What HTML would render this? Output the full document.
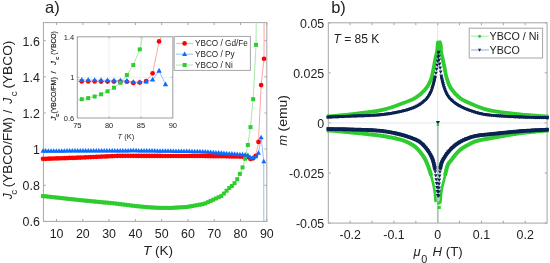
<!DOCTYPE html><html><head><meta charset="utf-8"><style>html,body{margin:0;padding:0;background:#fff;}svg{display:block;filter:blur(0.25px);font-family:"Liberation Sans",sans-serif;}</style></head><body><svg width="550" height="263" viewBox="0 0 550 263">
<rect width="550" height="263" fill="#fff"/>
<defs>
<clipPath id="ca"><rect x="43.4" y="22.6" width="223.4" height="198.8"/></clipPath>
<clipPath id="ci"><rect x="77.3" y="36.8" width="95.50000000000001" height="81.2"/></clipPath>
<clipPath id="cb"><rect x="326.7" y="22.8" width="222.0" height="200.29999999999998"/></clipPath>
</defs>
<rect x="43.4" y="22.6" width="223.40" height="198.80" fill="none" stroke="#a6a6a6" stroke-width="1"/>
<path d="M56.54 221.4V219.00M56.54 22.6V25.00" stroke="#a6a6a6" stroke-width="1"/>
<path d="M82.82 221.4V219.00M82.82 22.6V25.00" stroke="#a6a6a6" stroke-width="1"/>
<path d="M109.11 221.4V219.00M109.11 22.6V25.00" stroke="#a6a6a6" stroke-width="1"/>
<path d="M135.39 221.4V219.00M135.39 22.6V25.00" stroke="#a6a6a6" stroke-width="1"/>
<path d="M161.67 221.4V219.00M161.67 22.6V25.00" stroke="#a6a6a6" stroke-width="1"/>
<path d="M187.95 221.4V219.00M187.95 22.6V25.00" stroke="#a6a6a6" stroke-width="1"/>
<path d="M214.24 221.4V219.00M214.24 22.6V25.00" stroke="#a6a6a6" stroke-width="1"/>
<path d="M240.52 221.4V219.00M240.52 22.6V25.00" stroke="#a6a6a6" stroke-width="1"/>
<path d="M266.80 221.4V219.00M266.80 22.6V25.00" stroke="#a6a6a6" stroke-width="1"/>
<path d="M43.4 221.40H45.80M266.8 221.40H264.40" stroke="#a6a6a6" stroke-width="1"/>
<path d="M43.4 185.25H45.80M266.8 185.25H264.40" stroke="#a6a6a6" stroke-width="1"/>
<path d="M43.4 149.11H45.80M266.8 149.11H264.40" stroke="#a6a6a6" stroke-width="1"/>
<path d="M43.4 112.96H45.80M266.8 112.96H264.40" stroke="#a6a6a6" stroke-width="1"/>
<path d="M43.4 76.82H45.80M266.8 76.82H264.40" stroke="#a6a6a6" stroke-width="1"/>
<path d="M43.4 40.67H45.80M266.8 40.67H264.40" stroke="#a6a6a6" stroke-width="1"/>
<text x="56.54" y="237.70" font-size="12.4" fill="#222222" text-anchor="middle">10</text>
<text x="82.82" y="237.70" font-size="12.4" fill="#222222" text-anchor="middle">20</text>
<text x="109.11" y="237.70" font-size="12.4" fill="#222222" text-anchor="middle">30</text>
<text x="135.39" y="237.70" font-size="12.4" fill="#222222" text-anchor="middle">40</text>
<text x="161.67" y="237.70" font-size="12.4" fill="#222222" text-anchor="middle">50</text>
<text x="187.95" y="237.70" font-size="12.4" fill="#222222" text-anchor="middle">60</text>
<text x="214.24" y="237.70" font-size="12.4" fill="#222222" text-anchor="middle">70</text>
<text x="240.52" y="237.70" font-size="12.4" fill="#222222" text-anchor="middle">80</text>
<text x="266.80" y="237.70" font-size="12.4" fill="#222222" text-anchor="middle">90</text>
<text x="39.8" y="226.30" font-size="12.4" fill="#222222" text-anchor="end">0.6</text>
<text x="39.8" y="190.15" font-size="12.4" fill="#222222" text-anchor="end">0.8</text>
<text x="39.8" y="154.01" font-size="12.4" fill="#222222" text-anchor="end">1</text>
<text x="39.8" y="117.86" font-size="12.4" fill="#222222" text-anchor="end">1.2</text>
<text x="39.8" y="81.72" font-size="12.4" fill="#222222" text-anchor="end">1.4</text>
<text x="39.8" y="45.57" font-size="12.4" fill="#222222" text-anchor="end">1.6</text>
<text x="158.0" y="254.8" font-size="13.6" fill="#222222" text-anchor="middle"><tspan font-style="italic">T</tspan> (K)</text>
<g transform="translate(11.9,0) rotate(-90)" fill="#222222">
<text x="-199.2" y="0" font-size="12" font-style="italic">J</text>
<text x="-194.8" y="5.3" font-size="9.8">c</text>
<text x="-187.2" y="0" font-size="12" textLength="70" lengthAdjust="spacingAndGlyphs">(YBCO/FM)</text>
<text x="-113.2" y="0" font-size="12.5">/</text>
<text x="-103.8" y="0" font-size="12" font-style="italic">J</text>
<text x="-96.3" y="5.3" font-size="9.8">c</text>
<text x="-88.6" y="0" font-size="12" textLength="48.0" lengthAdjust="spacingAndGlyphs">(YBCO)</text>
</g>
<text x="45.0" y="12.9" font-size="16.5" fill="#222222">a)</text>
<g clip-path="url(#ca)">
<polyline points="43.03,150.92 45.69,150.91 48.35,150.90 51.01,150.89 53.67,150.88 56.33,150.87 58.99,150.86 61.65,150.84 64.31,150.83 66.97,150.82 69.63,150.81 72.29,150.80 74.95,150.79 77.61,150.78 80.27,150.77 82.93,150.76 85.59,150.75 88.25,150.74 90.91,150.73 93.57,150.72 96.23,150.71 98.89,150.70 101.55,150.69 104.21,150.68 106.87,150.67 109.53,150.66 112.19,150.65 114.85,150.64 117.51,150.63 120.17,150.61 122.83,150.60 125.49,150.59 128.14,150.58 130.80,150.57 133.46,150.56 136.12,150.57 138.78,150.60 141.44,150.64 144.10,150.67 146.76,150.71 149.42,150.75 152.08,150.78 154.74,150.82 157.40,150.86 160.06,150.89 162.72,150.93 165.38,150.97 168.04,151.00 170.70,151.04 173.36,151.08 176.02,151.11 178.68,151.15 181.34,151.19 184.00,151.22 186.66,151.26 189.32,151.31 191.98,151.37 194.64,151.43 197.30,151.49 199.96,151.55 202.62,151.61 205.28,151.76 207.94,151.97 210.60,152.18 213.26,152.38 215.92,152.59 218.58,152.80 221.24,153.01 223.90,153.21 226.56,153.42 229.22,153.63 231.88,153.81 234.54,153.99 237.20,154.18 239.86,154.36 242.52,154.54 245.17,154.72 247.83,155.12 250.49,157.59 253.15,157.42 255.81,156.46 258.47,152.94 261.13,137.34 263.78,161.40 263.91,329.84" fill="none" stroke="#8ab6ff" stroke-width="0.9" />
<polyline points="43.03,158.87 45.69,158.79 48.35,158.70 51.01,158.61 53.67,158.52 56.33,158.42 58.99,158.33 61.65,158.24 64.31,158.15 66.97,158.06 69.63,157.97 72.29,157.88 74.95,157.78 77.61,157.69 80.27,157.60 82.93,157.48 85.59,157.36 88.25,157.23 90.91,157.11 93.57,156.99 96.23,156.87 98.89,156.75 101.55,156.62 104.21,156.50 106.87,156.38 109.53,156.26 112.19,156.14 114.85,156.01 117.51,155.89 120.17,155.80 122.83,155.81 125.49,155.82 128.14,155.83 130.80,155.84 133.46,155.86 136.12,155.87 138.78,155.88 141.44,155.89 144.10,155.90 146.76,155.91 149.42,155.92 152.08,155.94 154.74,155.95 157.40,155.96 160.06,155.97 162.72,155.98 165.38,155.98 168.04,155.98 170.70,155.98 173.36,155.98 176.02,155.98 178.68,155.98 181.34,155.98 184.00,155.98 186.66,155.98 189.32,155.98 191.98,155.98 194.64,155.98 197.30,155.98 199.96,155.98 202.62,156.00 205.28,156.03 207.94,156.06 210.60,156.10 213.26,156.13 215.92,156.17 218.58,156.20 221.24,156.24 223.90,156.27 226.56,156.30 229.22,156.34 231.88,156.39 234.54,156.44 237.20,156.49 239.86,156.55 242.52,156.60 245.17,156.65 247.83,156.90 250.49,158.99 253.15,158.31 255.81,155.73 258.47,141.89 261.13,85.04 264.04,58.75 264.30,-212.35" fill="none" stroke="#ff9a9a" stroke-width="0.9" />
<polyline points="43.03,196.10 45.69,196.35 48.35,196.64 51.01,196.93 53.67,197.22 56.33,197.51 58.99,197.80 61.65,198.09 64.31,198.39 66.97,198.68 69.63,198.97 72.29,199.26 74.95,199.55 77.61,199.84 80.27,200.11 82.93,200.37 85.59,200.63 88.25,200.89 90.91,201.15 93.57,201.41 96.23,201.67 98.89,201.94 101.55,202.18 104.21,202.42 106.87,202.65 109.53,202.88 112.19,203.12 114.85,203.44 117.51,203.78 120.17,204.12 122.83,204.46 125.49,204.80 128.14,205.13 130.80,205.47 133.46,205.80 136.12,206.11 138.78,206.36 141.44,206.62 144.10,206.87 146.76,207.13 149.42,207.30 152.08,207.47 154.74,207.64 157.40,207.81 160.06,207.86 162.72,207.88 165.38,207.90 168.04,207.92 170.70,207.93 173.36,207.78 176.02,207.62 178.68,207.46 181.34,207.30 184.00,207.13 186.66,206.97 189.32,206.55 191.98,206.08 194.64,205.60 197.30,205.12 199.96,204.64 202.62,204.16 205.28,203.40 207.94,202.18 210.60,200.96 213.26,199.74 215.92,198.52 218.58,197.30 221.24,196.08 223.90,193.52 226.56,190.74 229.22,187.97 231.88,185.97 234.54,183.16 237.20,179.18 239.86,173.88 242.52,167.44 245.17,158.75 247.83,144.99 250.49,127.13 253.15,99.19 256.02,44.83 258.65,-248.49" fill="none" stroke="#9ee69e" stroke-width="0.9" />
</g>
<circle cx="43.03" cy="158.87" r="2.35" fill="#ff0000"/>
<circle cx="45.69" cy="158.79" r="2.35" fill="#ff0000"/>
<circle cx="48.35" cy="158.70" r="2.35" fill="#ff0000"/>
<circle cx="51.01" cy="158.61" r="2.35" fill="#ff0000"/>
<circle cx="53.67" cy="158.52" r="2.35" fill="#ff0000"/>
<circle cx="56.33" cy="158.42" r="2.35" fill="#ff0000"/>
<circle cx="58.99" cy="158.33" r="2.35" fill="#ff0000"/>
<circle cx="61.65" cy="158.24" r="2.35" fill="#ff0000"/>
<circle cx="64.31" cy="158.15" r="2.35" fill="#ff0000"/>
<circle cx="66.97" cy="158.06" r="2.35" fill="#ff0000"/>
<circle cx="69.63" cy="157.97" r="2.35" fill="#ff0000"/>
<circle cx="72.29" cy="157.88" r="2.35" fill="#ff0000"/>
<circle cx="74.95" cy="157.78" r="2.35" fill="#ff0000"/>
<circle cx="77.61" cy="157.69" r="2.35" fill="#ff0000"/>
<circle cx="80.27" cy="157.60" r="2.35" fill="#ff0000"/>
<circle cx="82.93" cy="157.48" r="2.35" fill="#ff0000"/>
<circle cx="85.59" cy="157.36" r="2.35" fill="#ff0000"/>
<circle cx="88.25" cy="157.23" r="2.35" fill="#ff0000"/>
<circle cx="90.91" cy="157.11" r="2.35" fill="#ff0000"/>
<circle cx="93.57" cy="156.99" r="2.35" fill="#ff0000"/>
<circle cx="96.23" cy="156.87" r="2.35" fill="#ff0000"/>
<circle cx="98.89" cy="156.75" r="2.35" fill="#ff0000"/>
<circle cx="101.55" cy="156.62" r="2.35" fill="#ff0000"/>
<circle cx="104.21" cy="156.50" r="2.35" fill="#ff0000"/>
<circle cx="106.87" cy="156.38" r="2.35" fill="#ff0000"/>
<circle cx="109.53" cy="156.26" r="2.35" fill="#ff0000"/>
<circle cx="112.19" cy="156.14" r="2.35" fill="#ff0000"/>
<circle cx="114.85" cy="156.01" r="2.35" fill="#ff0000"/>
<circle cx="117.51" cy="155.89" r="2.35" fill="#ff0000"/>
<circle cx="120.17" cy="155.80" r="2.35" fill="#ff0000"/>
<circle cx="122.83" cy="155.81" r="2.35" fill="#ff0000"/>
<circle cx="125.49" cy="155.82" r="2.35" fill="#ff0000"/>
<circle cx="128.14" cy="155.83" r="2.35" fill="#ff0000"/>
<circle cx="130.80" cy="155.84" r="2.35" fill="#ff0000"/>
<circle cx="133.46" cy="155.86" r="2.35" fill="#ff0000"/>
<circle cx="136.12" cy="155.87" r="2.35" fill="#ff0000"/>
<circle cx="138.78" cy="155.88" r="2.35" fill="#ff0000"/>
<circle cx="141.44" cy="155.89" r="2.35" fill="#ff0000"/>
<circle cx="144.10" cy="155.90" r="2.35" fill="#ff0000"/>
<circle cx="146.76" cy="155.91" r="2.35" fill="#ff0000"/>
<circle cx="149.42" cy="155.92" r="2.35" fill="#ff0000"/>
<circle cx="152.08" cy="155.94" r="2.35" fill="#ff0000"/>
<circle cx="154.74" cy="155.95" r="2.35" fill="#ff0000"/>
<circle cx="157.40" cy="155.96" r="2.35" fill="#ff0000"/>
<circle cx="160.06" cy="155.97" r="2.35" fill="#ff0000"/>
<circle cx="162.72" cy="155.98" r="2.35" fill="#ff0000"/>
<circle cx="165.38" cy="155.98" r="2.35" fill="#ff0000"/>
<circle cx="168.04" cy="155.98" r="2.35" fill="#ff0000"/>
<circle cx="170.70" cy="155.98" r="2.35" fill="#ff0000"/>
<circle cx="173.36" cy="155.98" r="2.35" fill="#ff0000"/>
<circle cx="176.02" cy="155.98" r="2.35" fill="#ff0000"/>
<circle cx="178.68" cy="155.98" r="2.35" fill="#ff0000"/>
<circle cx="181.34" cy="155.98" r="2.35" fill="#ff0000"/>
<circle cx="184.00" cy="155.98" r="2.35" fill="#ff0000"/>
<circle cx="186.66" cy="155.98" r="2.35" fill="#ff0000"/>
<circle cx="189.32" cy="155.98" r="2.35" fill="#ff0000"/>
<circle cx="191.98" cy="155.98" r="2.35" fill="#ff0000"/>
<circle cx="194.64" cy="155.98" r="2.35" fill="#ff0000"/>
<circle cx="197.30" cy="155.98" r="2.35" fill="#ff0000"/>
<circle cx="199.96" cy="155.98" r="2.35" fill="#ff0000"/>
<circle cx="202.62" cy="156.00" r="2.35" fill="#ff0000"/>
<circle cx="205.28" cy="156.03" r="2.35" fill="#ff0000"/>
<circle cx="207.94" cy="156.06" r="2.35" fill="#ff0000"/>
<circle cx="210.60" cy="156.10" r="2.35" fill="#ff0000"/>
<circle cx="213.26" cy="156.13" r="2.35" fill="#ff0000"/>
<circle cx="215.92" cy="156.17" r="2.35" fill="#ff0000"/>
<circle cx="218.58" cy="156.20" r="2.35" fill="#ff0000"/>
<circle cx="221.24" cy="156.24" r="2.35" fill="#ff0000"/>
<circle cx="223.90" cy="156.27" r="2.35" fill="#ff0000"/>
<circle cx="226.56" cy="156.30" r="2.35" fill="#ff0000"/>
<circle cx="229.22" cy="156.34" r="2.35" fill="#ff0000"/>
<circle cx="231.88" cy="156.39" r="2.35" fill="#ff0000"/>
<circle cx="234.54" cy="156.44" r="2.35" fill="#ff0000"/>
<circle cx="237.20" cy="156.49" r="2.35" fill="#ff0000"/>
<circle cx="239.86" cy="156.55" r="2.35" fill="#ff0000"/>
<circle cx="242.52" cy="156.60" r="2.35" fill="#ff0000"/>
<circle cx="245.17" cy="156.65" r="2.35" fill="#ff0000"/>
<circle cx="247.83" cy="156.90" r="2.35" fill="#ff0000"/>
<circle cx="250.49" cy="158.99" r="2.35" fill="#ff0000"/>
<circle cx="253.15" cy="158.31" r="2.35" fill="#ff0000"/>
<circle cx="255.81" cy="155.73" r="2.35" fill="#ff0000"/>
<circle cx="258.47" cy="141.89" r="2.35" fill="#ff0000"/>
<circle cx="261.13" cy="85.04" r="2.35" fill="#ff0000"/>
<circle cx="264.04" cy="58.75" r="2.35" fill="#ff0000"/>
<path d="M43.03 148.22L45.53 152.72L40.53 152.72Z" fill="#0a6cff"/>
<path d="M45.69 148.21L48.19 152.71L43.19 152.71Z" fill="#0a6cff"/>
<path d="M48.35 148.20L50.85 152.70L45.85 152.70Z" fill="#0a6cff"/>
<path d="M51.01 148.19L53.51 152.69L48.51 152.69Z" fill="#0a6cff"/>
<path d="M53.67 148.18L56.17 152.68L51.17 152.68Z" fill="#0a6cff"/>
<path d="M56.33 148.17L58.83 152.67L53.83 152.67Z" fill="#0a6cff"/>
<path d="M58.99 148.16L61.49 152.66L56.49 152.66Z" fill="#0a6cff"/>
<path d="M61.65 148.14L64.15 152.64L59.15 152.64Z" fill="#0a6cff"/>
<path d="M64.31 148.13L66.81 152.63L61.81 152.63Z" fill="#0a6cff"/>
<path d="M66.97 148.12L69.47 152.62L64.47 152.62Z" fill="#0a6cff"/>
<path d="M69.63 148.11L72.13 152.61L67.13 152.61Z" fill="#0a6cff"/>
<path d="M72.29 148.10L74.79 152.60L69.79 152.60Z" fill="#0a6cff"/>
<path d="M74.95 148.09L77.45 152.59L72.45 152.59Z" fill="#0a6cff"/>
<path d="M77.61 148.08L80.11 152.58L75.11 152.58Z" fill="#0a6cff"/>
<path d="M80.27 148.07L82.77 152.57L77.77 152.57Z" fill="#0a6cff"/>
<path d="M82.93 148.06L85.43 152.56L80.43 152.56Z" fill="#0a6cff"/>
<path d="M85.59 148.05L88.09 152.55L83.09 152.55Z" fill="#0a6cff"/>
<path d="M88.25 148.04L90.75 152.54L85.75 152.54Z" fill="#0a6cff"/>
<path d="M90.91 148.03L93.41 152.53L88.41 152.53Z" fill="#0a6cff"/>
<path d="M93.57 148.02L96.07 152.52L91.07 152.52Z" fill="#0a6cff"/>
<path d="M96.23 148.01L98.73 152.51L93.73 152.51Z" fill="#0a6cff"/>
<path d="M98.89 148.00L101.39 152.50L96.39 152.50Z" fill="#0a6cff"/>
<path d="M101.55 147.99L104.05 152.49L99.05 152.49Z" fill="#0a6cff"/>
<path d="M104.21 147.98L106.71 152.48L101.71 152.48Z" fill="#0a6cff"/>
<path d="M106.87 147.97L109.37 152.47L104.37 152.47Z" fill="#0a6cff"/>
<path d="M109.53 147.96L112.03 152.46L107.03 152.46Z" fill="#0a6cff"/>
<path d="M112.19 147.95L114.69 152.45L109.69 152.45Z" fill="#0a6cff"/>
<path d="M114.85 147.94L117.35 152.44L112.35 152.44Z" fill="#0a6cff"/>
<path d="M117.51 147.93L120.01 152.43L115.01 152.43Z" fill="#0a6cff"/>
<path d="M120.17 147.91L122.67 152.41L117.67 152.41Z" fill="#0a6cff"/>
<path d="M122.83 147.90L125.33 152.40L120.33 152.40Z" fill="#0a6cff"/>
<path d="M125.49 147.89L127.99 152.39L122.99 152.39Z" fill="#0a6cff"/>
<path d="M128.14 147.88L130.64 152.38L125.64 152.38Z" fill="#0a6cff"/>
<path d="M130.80 147.87L133.30 152.37L128.30 152.37Z" fill="#0a6cff"/>
<path d="M133.46 147.86L135.96 152.36L130.96 152.36Z" fill="#0a6cff"/>
<path d="M136.12 147.87L138.62 152.37L133.62 152.37Z" fill="#0a6cff"/>
<path d="M138.78 147.90L141.28 152.40L136.28 152.40Z" fill="#0a6cff"/>
<path d="M141.44 147.94L143.94 152.44L138.94 152.44Z" fill="#0a6cff"/>
<path d="M144.10 147.97L146.60 152.47L141.60 152.47Z" fill="#0a6cff"/>
<path d="M146.76 148.01L149.26 152.51L144.26 152.51Z" fill="#0a6cff"/>
<path d="M149.42 148.05L151.92 152.55L146.92 152.55Z" fill="#0a6cff"/>
<path d="M152.08 148.08L154.58 152.58L149.58 152.58Z" fill="#0a6cff"/>
<path d="M154.74 148.12L157.24 152.62L152.24 152.62Z" fill="#0a6cff"/>
<path d="M157.40 148.16L159.90 152.66L154.90 152.66Z" fill="#0a6cff"/>
<path d="M160.06 148.19L162.56 152.69L157.56 152.69Z" fill="#0a6cff"/>
<path d="M162.72 148.23L165.22 152.73L160.22 152.73Z" fill="#0a6cff"/>
<path d="M165.38 148.27L167.88 152.77L162.88 152.77Z" fill="#0a6cff"/>
<path d="M168.04 148.30L170.54 152.80L165.54 152.80Z" fill="#0a6cff"/>
<path d="M170.70 148.34L173.20 152.84L168.20 152.84Z" fill="#0a6cff"/>
<path d="M173.36 148.38L175.86 152.88L170.86 152.88Z" fill="#0a6cff"/>
<path d="M176.02 148.41L178.52 152.91L173.52 152.91Z" fill="#0a6cff"/>
<path d="M178.68 148.45L181.18 152.95L176.18 152.95Z" fill="#0a6cff"/>
<path d="M181.34 148.49L183.84 152.99L178.84 152.99Z" fill="#0a6cff"/>
<path d="M184.00 148.52L186.50 153.02L181.50 153.02Z" fill="#0a6cff"/>
<path d="M186.66 148.56L189.16 153.06L184.16 153.06Z" fill="#0a6cff"/>
<path d="M189.32 148.61L191.82 153.11L186.82 153.11Z" fill="#0a6cff"/>
<path d="M191.98 148.67L194.48 153.17L189.48 153.17Z" fill="#0a6cff"/>
<path d="M194.64 148.73L197.14 153.23L192.14 153.23Z" fill="#0a6cff"/>
<path d="M197.30 148.79L199.80 153.29L194.80 153.29Z" fill="#0a6cff"/>
<path d="M199.96 148.85L202.46 153.35L197.46 153.35Z" fill="#0a6cff"/>
<path d="M202.62 148.91L205.12 153.41L200.12 153.41Z" fill="#0a6cff"/>
<path d="M205.28 149.06L207.78 153.56L202.78 153.56Z" fill="#0a6cff"/>
<path d="M207.94 149.27L210.44 153.77L205.44 153.77Z" fill="#0a6cff"/>
<path d="M210.60 149.48L213.10 153.98L208.10 153.98Z" fill="#0a6cff"/>
<path d="M213.26 149.68L215.76 154.18L210.76 154.18Z" fill="#0a6cff"/>
<path d="M215.92 149.89L218.42 154.39L213.42 154.39Z" fill="#0a6cff"/>
<path d="M218.58 150.10L221.08 154.60L216.08 154.60Z" fill="#0a6cff"/>
<path d="M221.24 150.31L223.74 154.81L218.74 154.81Z" fill="#0a6cff"/>
<path d="M223.90 150.51L226.40 155.01L221.40 155.01Z" fill="#0a6cff"/>
<path d="M226.56 150.72L229.06 155.22L224.06 155.22Z" fill="#0a6cff"/>
<path d="M229.22 150.93L231.72 155.43L226.72 155.43Z" fill="#0a6cff"/>
<path d="M231.88 151.11L234.38 155.61L229.38 155.61Z" fill="#0a6cff"/>
<path d="M234.54 151.29L237.04 155.79L232.04 155.79Z" fill="#0a6cff"/>
<path d="M237.20 151.48L239.70 155.98L234.70 155.98Z" fill="#0a6cff"/>
<path d="M239.86 151.66L242.36 156.16L237.36 156.16Z" fill="#0a6cff"/>
<path d="M242.52 151.84L245.02 156.34L240.02 156.34Z" fill="#0a6cff"/>
<path d="M245.17 152.02L247.67 156.52L242.67 156.52Z" fill="#0a6cff"/>
<path d="M247.83 152.42L250.33 156.92L245.33 156.92Z" fill="#0a6cff"/>
<path d="M250.49 154.89L252.99 159.39L247.99 159.39Z" fill="#0a6cff"/>
<path d="M253.15 154.72L255.65 159.22L250.65 159.22Z" fill="#0a6cff"/>
<path d="M255.81 153.76L258.31 158.26L253.31 158.26Z" fill="#0a6cff"/>
<path d="M258.47 150.24L260.97 154.74L255.97 154.74Z" fill="#0a6cff"/>
<path d="M261.13 134.64L263.63 139.14L258.63 139.14Z" fill="#0a6cff"/>
<path d="M263.78 158.70L266.28 163.20L261.28 163.20Z" fill="#0a6cff"/>
<rect x="41.03" y="194.10" width="4.0" height="4.0" fill="#2ecc2e"/>
<rect x="43.69" y="194.35" width="4.0" height="4.0" fill="#2ecc2e"/>
<rect x="46.35" y="194.64" width="4.0" height="4.0" fill="#2ecc2e"/>
<rect x="49.01" y="194.93" width="4.0" height="4.0" fill="#2ecc2e"/>
<rect x="51.67" y="195.22" width="4.0" height="4.0" fill="#2ecc2e"/>
<rect x="54.33" y="195.51" width="4.0" height="4.0" fill="#2ecc2e"/>
<rect x="56.99" y="195.80" width="4.0" height="4.0" fill="#2ecc2e"/>
<rect x="59.65" y="196.09" width="4.0" height="4.0" fill="#2ecc2e"/>
<rect x="62.31" y="196.39" width="4.0" height="4.0" fill="#2ecc2e"/>
<rect x="64.97" y="196.68" width="4.0" height="4.0" fill="#2ecc2e"/>
<rect x="67.63" y="196.97" width="4.0" height="4.0" fill="#2ecc2e"/>
<rect x="70.29" y="197.26" width="4.0" height="4.0" fill="#2ecc2e"/>
<rect x="72.95" y="197.55" width="4.0" height="4.0" fill="#2ecc2e"/>
<rect x="75.61" y="197.84" width="4.0" height="4.0" fill="#2ecc2e"/>
<rect x="78.27" y="198.11" width="4.0" height="4.0" fill="#2ecc2e"/>
<rect x="80.93" y="198.37" width="4.0" height="4.0" fill="#2ecc2e"/>
<rect x="83.59" y="198.63" width="4.0" height="4.0" fill="#2ecc2e"/>
<rect x="86.25" y="198.89" width="4.0" height="4.0" fill="#2ecc2e"/>
<rect x="88.91" y="199.15" width="4.0" height="4.0" fill="#2ecc2e"/>
<rect x="91.57" y="199.41" width="4.0" height="4.0" fill="#2ecc2e"/>
<rect x="94.23" y="199.67" width="4.0" height="4.0" fill="#2ecc2e"/>
<rect x="96.89" y="199.94" width="4.0" height="4.0" fill="#2ecc2e"/>
<rect x="99.55" y="200.18" width="4.0" height="4.0" fill="#2ecc2e"/>
<rect x="102.21" y="200.42" width="4.0" height="4.0" fill="#2ecc2e"/>
<rect x="104.87" y="200.65" width="4.0" height="4.0" fill="#2ecc2e"/>
<rect x="107.53" y="200.88" width="4.0" height="4.0" fill="#2ecc2e"/>
<rect x="110.19" y="201.12" width="4.0" height="4.0" fill="#2ecc2e"/>
<rect x="112.85" y="201.44" width="4.0" height="4.0" fill="#2ecc2e"/>
<rect x="115.51" y="201.78" width="4.0" height="4.0" fill="#2ecc2e"/>
<rect x="118.17" y="202.12" width="4.0" height="4.0" fill="#2ecc2e"/>
<rect x="120.83" y="202.46" width="4.0" height="4.0" fill="#2ecc2e"/>
<rect x="123.49" y="202.80" width="4.0" height="4.0" fill="#2ecc2e"/>
<rect x="126.14" y="203.13" width="4.0" height="4.0" fill="#2ecc2e"/>
<rect x="128.80" y="203.47" width="4.0" height="4.0" fill="#2ecc2e"/>
<rect x="131.46" y="203.80" width="4.0" height="4.0" fill="#2ecc2e"/>
<rect x="134.12" y="204.11" width="4.0" height="4.0" fill="#2ecc2e"/>
<rect x="136.78" y="204.36" width="4.0" height="4.0" fill="#2ecc2e"/>
<rect x="139.44" y="204.62" width="4.0" height="4.0" fill="#2ecc2e"/>
<rect x="142.10" y="204.87" width="4.0" height="4.0" fill="#2ecc2e"/>
<rect x="144.76" y="205.13" width="4.0" height="4.0" fill="#2ecc2e"/>
<rect x="147.42" y="205.30" width="4.0" height="4.0" fill="#2ecc2e"/>
<rect x="150.08" y="205.47" width="4.0" height="4.0" fill="#2ecc2e"/>
<rect x="152.74" y="205.64" width="4.0" height="4.0" fill="#2ecc2e"/>
<rect x="155.40" y="205.81" width="4.0" height="4.0" fill="#2ecc2e"/>
<rect x="158.06" y="205.86" width="4.0" height="4.0" fill="#2ecc2e"/>
<rect x="160.72" y="205.88" width="4.0" height="4.0" fill="#2ecc2e"/>
<rect x="163.38" y="205.90" width="4.0" height="4.0" fill="#2ecc2e"/>
<rect x="166.04" y="205.92" width="4.0" height="4.0" fill="#2ecc2e"/>
<rect x="168.70" y="205.93" width="4.0" height="4.0" fill="#2ecc2e"/>
<rect x="171.36" y="205.78" width="4.0" height="4.0" fill="#2ecc2e"/>
<rect x="174.02" y="205.62" width="4.0" height="4.0" fill="#2ecc2e"/>
<rect x="176.68" y="205.46" width="4.0" height="4.0" fill="#2ecc2e"/>
<rect x="179.34" y="205.30" width="4.0" height="4.0" fill="#2ecc2e"/>
<rect x="182.00" y="205.13" width="4.0" height="4.0" fill="#2ecc2e"/>
<rect x="184.66" y="204.97" width="4.0" height="4.0" fill="#2ecc2e"/>
<rect x="187.32" y="204.55" width="4.0" height="4.0" fill="#2ecc2e"/>
<rect x="189.98" y="204.08" width="4.0" height="4.0" fill="#2ecc2e"/>
<rect x="192.64" y="203.60" width="4.0" height="4.0" fill="#2ecc2e"/>
<rect x="195.30" y="203.12" width="4.0" height="4.0" fill="#2ecc2e"/>
<rect x="197.96" y="202.64" width="4.0" height="4.0" fill="#2ecc2e"/>
<rect x="200.62" y="202.16" width="4.0" height="4.0" fill="#2ecc2e"/>
<rect x="203.28" y="201.40" width="4.0" height="4.0" fill="#2ecc2e"/>
<rect x="205.94" y="200.18" width="4.0" height="4.0" fill="#2ecc2e"/>
<rect x="208.60" y="198.96" width="4.0" height="4.0" fill="#2ecc2e"/>
<rect x="211.26" y="197.74" width="4.0" height="4.0" fill="#2ecc2e"/>
<rect x="213.92" y="196.52" width="4.0" height="4.0" fill="#2ecc2e"/>
<rect x="216.58" y="195.30" width="4.0" height="4.0" fill="#2ecc2e"/>
<rect x="219.24" y="194.08" width="4.0" height="4.0" fill="#2ecc2e"/>
<rect x="221.90" y="191.52" width="4.0" height="4.0" fill="#2ecc2e"/>
<rect x="224.56" y="188.74" width="4.0" height="4.0" fill="#2ecc2e"/>
<rect x="227.22" y="185.97" width="4.0" height="4.0" fill="#2ecc2e"/>
<rect x="229.88" y="183.97" width="4.0" height="4.0" fill="#2ecc2e"/>
<rect x="232.54" y="181.16" width="4.0" height="4.0" fill="#2ecc2e"/>
<rect x="235.20" y="177.18" width="4.0" height="4.0" fill="#2ecc2e"/>
<rect x="237.86" y="171.88" width="4.0" height="4.0" fill="#2ecc2e"/>
<rect x="240.52" y="165.44" width="4.0" height="4.0" fill="#2ecc2e"/>
<rect x="243.17" y="156.75" width="4.0" height="4.0" fill="#2ecc2e"/>
<rect x="245.83" y="142.99" width="4.0" height="4.0" fill="#2ecc2e"/>
<rect x="248.49" y="125.13" width="4.0" height="4.0" fill="#2ecc2e"/>
<rect x="251.15" y="97.19" width="4.0" height="4.0" fill="#2ecc2e"/>
<rect x="254.02" y="42.83" width="4.0" height="4.0" fill="#2ecc2e"/>
<rect x="77.3" y="36.8" width="95.50" height="81.20" fill="#fff" stroke="#9c9c9c" stroke-width="1"/>
<path d="M109.13 118.0V36.8" stroke="#ececec" stroke-width="0.8"/>
<path d="M140.97 118.0V36.8" stroke="#ececec" stroke-width="0.8"/>
<path d="M77.3 77.40H172.8" stroke="#ececec" stroke-width="0.8"/>
<path d="M109.13 118.0V116.40M109.13 36.8V38.40" stroke="#999" stroke-width="0.9"/>
<path d="M140.97 118.0V116.40M140.97 36.8V38.40" stroke="#999" stroke-width="0.9"/>
<path d="M77.3 77.40H78.90M172.8 77.40H171.20" stroke="#999" stroke-width="0.9"/>
<text x="77.30" y="128.2" font-size="7.5" fill="#222222" text-anchor="middle">75</text>
<text x="109.13" y="128.2" font-size="7.5" fill="#222222" text-anchor="middle">80</text>
<text x="140.97" y="128.2" font-size="7.5" fill="#222222" text-anchor="middle">85</text>
<text x="172.80" y="128.2" font-size="7.5" fill="#222222" text-anchor="middle">90</text>
<text x="74.3" y="120.70" font-size="7.5" fill="#222222" text-anchor="end">0.6</text>
<text x="74.3" y="80.10" font-size="7.5" fill="#222222" text-anchor="end">1</text>
<text x="74.3" y="39.50" font-size="7.5" fill="#222222" text-anchor="end">1.4</text>
<text x="125.9" y="138.6" font-size="7.5" fill="#222222" text-anchor="middle"><tspan font-style="italic">T</tspan> (K)</text>
<g transform="translate(55.8,0) rotate(-90)" fill="#222222" stroke="#222222" stroke-width="0.18">
<text x="-120.5" y="0" font-size="7.8" font-style="italic">J</text>
<text x="-116.8" y="3.0" font-size="6.0">c</text>
<text x="-113.6" y="0" font-size="7.9" textLength="36.3" lengthAdjust="spacingAndGlyphs">(YBCO/FM)</text>
<text x="-73.6" y="0" font-size="7.8">/</text>
<text x="-64.9" y="0" font-size="7.8" font-style="italic">J</text>
<text x="-59.8" y="3.0" font-size="6.0">c</text>
<text x="-54.7" y="0" font-size="7.9" textLength="23.4" lengthAdjust="spacingAndGlyphs">(YBCO)</text>
</g>
<g clip-path="url(#ci)">
<polyline points="75.31,79.82 81.76,79.94 88.20,80.04 94.64,80.14 101.09,80.25 107.53,80.35 113.97,80.45 120.42,80.55 126.86,80.78 133.30,82.16 139.74,82.06 146.19,81.53 152.63,79.55 159.07,70.79 165.48,84.30" fill="none" stroke="#8ab6ff" stroke-width="0.9" />
<polyline points="75.31,81.44 81.76,81.46 88.20,81.49 94.64,81.52 101.09,81.55 107.53,81.58 113.97,81.61 120.42,81.64 126.86,81.77 133.30,82.95 139.74,82.57 146.19,81.12 152.63,73.34 159.07,41.42 166.12,26.65 166.75,-125.60" fill="none" stroke="#ff9a9a" stroke-width="0.9" />
<polyline points="75.31,100.78 81.76,99.22 88.20,98.10 94.64,96.52 101.09,94.29 107.53,91.31 113.97,87.69 120.42,82.81 126.86,75.09 133.30,65.06 139.74,49.37 146.70,18.83 153.06,-145.90" fill="none" stroke="#9ee69e" stroke-width="0.9" />
</g>
<circle cx="81.76" cy="81.46" r="2.35" fill="#ff0000"/>
<circle cx="88.20" cy="81.49" r="2.35" fill="#ff0000"/>
<circle cx="94.64" cy="81.52" r="2.35" fill="#ff0000"/>
<circle cx="101.09" cy="81.55" r="2.35" fill="#ff0000"/>
<circle cx="107.53" cy="81.58" r="2.35" fill="#ff0000"/>
<circle cx="113.97" cy="81.61" r="2.35" fill="#ff0000"/>
<circle cx="120.42" cy="81.64" r="2.35" fill="#ff0000"/>
<circle cx="126.86" cy="81.77" r="2.35" fill="#ff0000"/>
<circle cx="133.30" cy="82.95" r="2.35" fill="#ff0000"/>
<circle cx="139.74" cy="82.57" r="2.35" fill="#ff0000"/>
<circle cx="146.19" cy="81.12" r="2.35" fill="#ff0000"/>
<circle cx="152.63" cy="73.34" r="2.35" fill="#ff0000"/>
<circle cx="159.07" cy="41.42" r="2.35" fill="#ff0000"/>
<path d="M81.76 77.02L84.46 81.88L79.06 81.88Z" fill="#0a6cff"/>
<path d="M88.20 77.12L90.90 81.98L85.50 81.98Z" fill="#0a6cff"/>
<path d="M94.64 77.23L97.34 82.09L91.94 82.09Z" fill="#0a6cff"/>
<path d="M101.09 77.33L103.79 82.19L98.39 82.19Z" fill="#0a6cff"/>
<path d="M107.53 77.43L110.23 82.29L104.83 82.29Z" fill="#0a6cff"/>
<path d="M113.97 77.54L116.67 82.40L111.27 82.40Z" fill="#0a6cff"/>
<path d="M120.42 77.64L123.12 82.50L117.72 82.50Z" fill="#0a6cff"/>
<path d="M126.86 77.86L129.56 82.72L124.16 82.72Z" fill="#0a6cff"/>
<path d="M133.30 79.25L136.00 84.11L130.60 84.11Z" fill="#0a6cff"/>
<path d="M139.74 79.15L142.44 84.01L137.04 84.01Z" fill="#0a6cff"/>
<path d="M146.19 78.61L148.89 83.47L143.49 83.47Z" fill="#0a6cff"/>
<path d="M152.63 76.63L155.33 81.49L149.93 81.49Z" fill="#0a6cff"/>
<path d="M159.07 67.87L161.77 72.73L156.37 72.73Z" fill="#0a6cff"/>
<path d="M165.48 81.39L168.18 86.25L162.78 86.25Z" fill="#0a6cff"/>
<rect x="79.76" y="97.22" width="4.0" height="4.0" fill="#2ecc2e"/>
<rect x="86.20" y="96.10" width="4.0" height="4.0" fill="#2ecc2e"/>
<rect x="92.64" y="94.52" width="4.0" height="4.0" fill="#2ecc2e"/>
<rect x="99.09" y="92.29" width="4.0" height="4.0" fill="#2ecc2e"/>
<rect x="105.53" y="89.31" width="4.0" height="4.0" fill="#2ecc2e"/>
<rect x="111.97" y="85.69" width="4.0" height="4.0" fill="#2ecc2e"/>
<rect x="118.42" y="80.81" width="4.0" height="4.0" fill="#2ecc2e"/>
<rect x="124.86" y="73.09" width="4.0" height="4.0" fill="#2ecc2e"/>
<rect x="131.30" y="63.06" width="4.0" height="4.0" fill="#2ecc2e"/>
<rect x="137.74" y="47.37" width="4.0" height="4.0" fill="#2ecc2e"/>
<rect x="174.4" y="36.4" width="76" height="34" fill="#fff" stroke="#a6a6a6" stroke-width="1"/>
<rect x="172.1" y="36.4" width="2.8" height="34" fill="#c2c2c2"/>
<path d="M176 43.40H193" stroke="#ff9a9a" stroke-width="0.9"/>
<circle cx="184.60" cy="43.40" r="2.3" fill="#ff0000"/>
<text x="195" y="46.40" font-size="8.2" fill="#222222">YBCO / Gd/Fe</text>
<path d="M176 54.20H193" stroke="#8ab6ff" stroke-width="0.9"/>
<path d="M184.60 51.50L187.10 56.00L182.10 56.00Z" fill="#0a6cff"/>
<text x="195" y="57.20" font-size="8.2" fill="#222222">YBCO / Py</text>
<path d="M176 65.00H193" stroke="#9ee69e" stroke-width="0.9"/>
<rect x="182.60" y="63.00" width="4.0" height="4.0" fill="#2ecc2e"/>
<text x="195" y="68.00" font-size="8.2" fill="#222222">YBCO / Ni</text>
<rect x="328.3" y="22.8" width="218.80" height="200.30" fill="none" stroke="#a6a6a6" stroke-width="1"/>
<path d="M328.3 122.95H547.1M437.70 22.8V223.1" stroke="#e8e8e8" stroke-width="1"/>
<path d="M350.18 223.1V220.70M350.18 22.8V25.20" stroke="#a6a6a6" stroke-width="1"/>
<path d="M372.06 223.1V220.70M372.06 22.8V25.20" stroke="#a6a6a6" stroke-width="1"/>
<path d="M393.94 223.1V220.70M393.94 22.8V25.20" stroke="#a6a6a6" stroke-width="1"/>
<path d="M415.82 223.1V220.70M415.82 22.8V25.20" stroke="#a6a6a6" stroke-width="1"/>
<path d="M437.70 223.1V220.70M437.70 22.8V25.20" stroke="#a6a6a6" stroke-width="1"/>
<path d="M459.58 223.1V220.70M459.58 22.8V25.20" stroke="#a6a6a6" stroke-width="1"/>
<path d="M481.46 223.1V220.70M481.46 22.8V25.20" stroke="#a6a6a6" stroke-width="1"/>
<path d="M503.34 223.1V220.70M503.34 22.8V25.20" stroke="#a6a6a6" stroke-width="1"/>
<path d="M525.22 223.1V220.70M525.22 22.8V25.20" stroke="#a6a6a6" stroke-width="1"/>
<path d="M328.3 223.10H330.70M547.1 223.10H544.70" stroke="#a6a6a6" stroke-width="1"/>
<path d="M328.3 173.03H330.70M547.1 173.03H544.70" stroke="#a6a6a6" stroke-width="1"/>
<path d="M328.3 122.95H330.70M547.1 122.95H544.70" stroke="#a6a6a6" stroke-width="1"/>
<path d="M328.3 72.87H330.70M547.1 72.87H544.70" stroke="#a6a6a6" stroke-width="1"/>
<path d="M328.3 22.80H330.70M547.1 22.80H544.70" stroke="#a6a6a6" stroke-width="1"/>
<text x="350.18" y="239" font-size="12.4" fill="#222222" text-anchor="middle">-0.2</text>
<text x="393.94" y="239" font-size="12.4" fill="#222222" text-anchor="middle">-0.1</text>
<text x="437.70" y="239" font-size="12.4" fill="#222222" text-anchor="middle">0</text>
<text x="481.46" y="239" font-size="12.4" fill="#222222" text-anchor="middle">0.1</text>
<text x="525.22" y="239" font-size="12.4" fill="#222222" text-anchor="middle">0.2</text>
<text x="324.2" y="228.30" font-size="12.4" fill="#222222" text-anchor="end">-0.05</text>
<text x="324.2" y="178.22" font-size="12.4" fill="#222222" text-anchor="end">-0.025</text>
<text x="324.2" y="128.15" font-size="12.4" fill="#222222" text-anchor="end">0</text>
<text x="324.2" y="78.07" font-size="12.4" fill="#222222" text-anchor="end">0.025</text>
<text x="324.2" y="28.00" font-size="12.4" fill="#222222" text-anchor="end">0.05</text>
<text x="413.6" y="256.3" font-size="13" fill="#222222"><tspan font-style="italic">μ</tspan></text>
<text x="421.2" y="262.6" font-size="10.8" fill="#222222">0</text>
<text x="432.6" y="256.3" font-size="13.2" fill="#222222"><tspan font-style="italic">H</tspan> (T)</text>
<g transform="translate(287.2,0) rotate(-90)" fill="#222222">
<text x="-145.8" y="0" font-size="13" font-style="italic">m</text>
<text x="-131.5" y="0" font-size="13" textLength="36.5" lengthAdjust="spacingAndGlyphs">(emu)</text>
</g>
<text x="331.2" y="12.9" font-size="16.5" fill="#222222">b)</text>
<text x="333.6" y="42.6" font-size="12" fill="#222222"><tspan font-style="italic">T</tspan> = 85 K</text>
<g clip-path="url(#cb)">
<path d="M437.8 124.5V224" stroke="#adc6b8" stroke-width="1.8"/>
<path d="M320.00 117.20C321.33 117.08 323.00 116.98 328.00 116.50C333.00 116.02 341.33 115.32 350.00 114.30C358.67 113.28 371.67 112.07 380.00 110.40C388.33 108.73 394.17 106.33 400.00 104.30C405.83 102.27 410.83 100.62 415.00 98.20C419.17 95.78 422.40 92.75 425.00 89.80C427.60 86.85 429.20 83.88 430.60 80.50C432.00 77.12 432.58 73.25 433.40 69.50C434.22 65.75 434.90 60.92 435.50 58.00C436.10 55.08 436.65 54.00 437.00 52.00C437.35 50.00 437.43 47.62 437.60 46.00C437.77 44.38 437.93 42.92 438.00 42.30" fill="none" stroke="#2ecc2e" stroke-width="3.8" stroke-linecap="round"/>
<path d="M440.00 42.30C440.13 42.92 440.62 44.38 440.80 46.00C440.98 47.62 440.82 50.00 441.10 52.00C441.38 54.00 441.92 55.33 442.50 58.00C443.08 60.67 443.95 64.83 444.60 68.00C445.25 71.17 445.40 73.68 446.40 77.00C447.40 80.32 448.33 84.38 450.60 87.90C452.87 91.42 455.93 95.18 460.00 98.10C464.07 101.02 470.00 103.35 475.00 105.40C480.00 107.45 482.50 108.90 490.00 110.40C497.50 111.90 510.50 113.38 520.00 114.40C529.50 115.42 541.17 116.07 547.00 116.50C552.83 116.93 553.67 116.92 555.00 117.00" fill="none" stroke="#2ecc2e" stroke-width="3.8" stroke-linecap="round"/>
<polyline points="320.00,131.20 320.13,131.18 320.27,131.16 320.41,131.14 320.56,131.11 320.71,131.08 320.86,131.05 321.03,131.01 321.19,130.97 321.37,130.93 321.56,130.89 321.75,130.85 321.95,130.81 322.17,130.77 322.39,130.72 322.62,130.68 322.87,130.64 323.13,130.60 323.41,130.56 323.70,130.53 324.00,130.50 324.32,130.47 324.65,130.44 325.01,130.42 325.38,130.40 325.76,130.39 326.17,130.38 326.60,130.37 327.04,130.38 327.51,130.39 328.00,130.40 328.51,130.42 329.04,130.45 329.60,130.47 330.17,130.51 330.76,130.54 331.38,130.58 332.01,130.63 332.65,130.68 333.32,130.73 334.00,130.78 334.70,130.84 335.41,130.90 336.13,130.96 336.87,131.03 337.62,131.09 338.39,131.16 339.17,131.24 339.95,131.31 340.75,131.39 341.56,131.46 342.37,131.54 343.19,131.62 344.03,131.70 344.86,131.79 345.71,131.87 346.56,131.96 347.41,132.04 348.27,132.13 349.13,132.21 350.00,132.30 350.88,132.39 351.79,132.48 352.72,132.57 353.68,132.67 354.65,132.76 355.65,132.86 356.66,132.96 357.69,133.06 358.73,133.17 359.78,133.27 360.84,133.38 361.90,133.49 362.98,133.60 364.05,133.71 365.12,133.83 366.20,133.94 367.27,134.05 368.34,134.17 369.39,134.29 370.44,134.40 371.48,134.52 372.51,134.64 373.52,134.76 374.51,134.88 375.49,135.00 376.44,135.12 377.37,135.24 378.27,135.36 379.15,135.48 380.00,135.60 380.83,135.72 381.64,135.84 382.45,135.97 383.24,136.09 384.03,136.21 384.80,136.34 385.56,136.47 386.31,136.59 387.05,136.72 387.78,136.85 388.49,136.98 389.20,137.11 389.89,137.24 390.58,137.37 391.25,137.51 391.91,137.64 392.56,137.77 393.20,137.90 393.83,138.04 394.44,138.17 395.05,138.30 395.64,138.44 396.23,138.57 396.80,138.70 397.36,138.84 397.91,138.97 398.45,139.10 398.98,139.24 399.49,139.37 400.00,139.50 400.49,139.63 400.97,139.76 401.42,139.90 401.86,140.03 402.29,140.16 402.70,140.29 403.10,140.43 403.49,140.56 403.86,140.69 404.22,140.83 404.57,140.96 404.91,141.09 405.24,141.23 405.56,141.36 405.88,141.49 406.18,141.63 406.48,141.76 406.77,141.90 407.05,142.03 407.33,142.16 407.61,142.30 407.88,142.43 408.15,142.56 408.42,142.70 408.68,142.83 408.94,142.97 409.21,143.10 409.47,143.23 409.73,143.37 410.00,143.50 410.26,143.63 410.52,143.76 410.77,143.89 411.01,144.02 411.24,144.15 411.47,144.28 411.70,144.40 411.91,144.53 412.13,144.65 412.33,144.78 412.54,144.90 412.74,145.03 412.93,145.15 413.12,145.28 413.31,145.41 413.50,145.53 413.68,145.66 413.86,145.79 414.04,145.92 414.22,146.06 414.40,146.19 414.58,146.33 414.75,146.46 414.93,146.60 415.10,146.75 415.28,146.89 415.46,147.04 415.64,147.19 415.82,147.34 416.00,147.50 416.18,147.66 416.36,147.82 416.54,147.98 416.72,148.15 416.90,148.31 417.07,148.48 417.25,148.65 417.42,148.82 417.59,148.99 417.76,149.17 417.93,149.34 418.10,149.52 418.26,149.70 418.43,149.88 418.59,150.06 418.76,150.25 418.92,150.43 419.08,150.62 419.25,150.81 419.41,151.00 419.57,151.19 419.73,151.39 419.89,151.58 420.05,151.78 420.21,151.98 420.37,152.18 420.52,152.38 420.68,152.59 420.84,152.79 421.00,153.00 421.16,153.21 421.32,153.42 421.47,153.63 421.63,153.84 421.78,154.05 421.94,154.26 422.09,154.47 422.25,154.68 422.40,154.90 422.56,155.11 422.71,155.33 422.86,155.55 423.01,155.77 423.16,155.99 423.31,156.22 423.46,156.45 423.61,156.68 423.76,156.91 423.91,157.15 424.06,157.39 424.20,157.63 424.35,157.88 424.49,158.13 424.64,158.38 424.78,158.64 424.93,158.90 425.07,159.17 425.22,159.44 425.36,159.72 425.50,160.00 425.64,160.29 425.78,160.58 425.93,160.88 426.07,161.18 426.21,161.49 426.35,161.81 426.49,162.13 426.63,162.45 426.77,162.78 426.91,163.11 427.05,163.45 427.19,163.78 427.33,164.12 427.47,164.47 427.61,164.81 427.74,165.16 427.88,165.51 428.01,165.86 428.14,166.21 428.27,166.56 428.40,166.91 428.53,167.26 428.66,167.60 428.78,167.95 428.91,168.30 429.03,168.64 429.15,168.99 429.27,169.33 429.39,169.67 429.50,170.00 429.61,170.33 429.72,170.67 429.83,171.00 429.94,171.33 430.04,171.67 430.15,172.00 430.25,172.33 430.35,172.67 430.45,173.00 430.54,173.33 430.64,173.67 430.74,174.00 430.83,174.33" fill="none" stroke="#2ecc2e" stroke-width="4.0" stroke-linecap="round" stroke-linejoin="round"/>
<polyline points="430.83,174.33 430.92,174.67 431.01,175.00 431.10,175.33 431.19,175.67 431.28,176.00 431.37,176.33 431.46,176.67 431.54,177.00 431.63,177.33 431.71,177.67 431.80,178.00 431.88,178.33 431.97,178.67 432.05,179.00 432.13,179.33 432.22,179.67 432.30,180.00 432.38,180.33 432.47,180.66 432.55,181.00 432.63,181.33 432.71,181.66 432.80,181.98 432.88,182.31 432.96,182.64 433.04,182.97 433.12,183.30 433.20,183.62 433.28,183.95 433.35,184.28 433.43,184.61 433.51,184.94 433.58,185.27 433.66,185.60 433.73,185.93 433.80,186.26 433.87,186.59 433.94,186.93 434.01,187.26 434.07,187.60 434.14,187.94 434.20,188.28 434.27,188.62 434.33,188.96 434.39,189.30 434.44,189.65 434.50,190.00 434.55,190.36 434.61,190.73 434.66,191.11 434.71,191.50 434.76,191.90 434.81,192.31 434.86,192.73 434.90,193.15 434.95,193.57 434.99,194.00 435.03,194.43 435.07,194.86 435.11,195.28 435.15,195.71 435.19,196.12 435.22,196.54 435.26,196.95 435.29,197.34 435.32,197.73 435.36,198.11 435.39,198.48 435.41,198.83 435.44,199.17 435.47,199.49 435.49,199.79 435.52,200.08 435.54,200.34 435.56,200.58 435.58,200.80 435.60,201.00" fill="none" stroke="#2ecc2e" stroke-width="2.7" stroke-linecap="round" stroke-linejoin="round"/>
<polyline points="555.00,130.20 554.87,130.20 554.74,130.21 554.61,130.21 554.48,130.21 554.35,130.20 554.22,130.20 554.08,130.20 553.94,130.20 553.79,130.19 553.63,130.19 553.46,130.19 553.29,130.18 553.10,130.18 552.90,130.18 552.69,130.18 552.46,130.18 552.21,130.19 551.95,130.19 551.67,130.20 551.37,130.21 551.05,130.22 550.70,130.24 550.34,130.26 549.94,130.28 549.53,130.31 549.08,130.34 548.61,130.37 548.10,130.41 547.57,130.45 547.00,130.50 546.40,130.55 545.76,130.61 545.08,130.66 544.37,130.72 543.63,130.78 542.86,130.85 542.07,130.92 541.24,130.99 540.39,131.06 539.52,131.13 538.62,131.21 537.71,131.29 536.78,131.38 535.84,131.46 534.88,131.55 533.90,131.64 532.92,131.74 531.93,131.83 530.93,131.93 529.93,132.03 528.92,132.14 527.91,132.25 526.90,132.36 525.90,132.47 524.89,132.58 523.90,132.70 522.91,132.82 521.93,132.95 520.96,133.07 520.00,133.20 519.04,133.33 518.05,133.47 517.05,133.62 516.03,133.78 514.99,133.94 513.94,134.10 512.87,134.27 511.80,134.45 510.72,134.62 509.63,134.80 508.54,134.99 507.45,135.17 506.36,135.36 505.27,135.55 504.19,135.74 503.11,135.93 502.05,136.12 500.99,136.30 499.95,136.49 498.93,136.67 497.92,136.86 496.93,137.04 495.97,137.21 495.02,137.38 494.11,137.55 493.22,137.71 492.37,137.87 491.54,138.02 490.75,138.16 490.00,138.30 489.28,138.43 488.59,138.55 487.93,138.67 487.30,138.78 486.69,138.89 486.11,138.99 485.54,139.09 485.00,139.19 484.49,139.28 483.99,139.37 483.50,139.45 483.04,139.54 482.59,139.62 482.15,139.70 481.73,139.78 481.31,139.86 480.91,139.94 480.52,140.02 480.13,140.11 479.75,140.19 479.37,140.27 479.00,140.36 478.63,140.45 478.26,140.55 477.89,140.64 477.52,140.75 477.15,140.85 476.77,140.96 476.39,141.08 476.00,141.20 475.61,141.33 475.23,141.46 474.85,141.59 474.48,141.72 474.12,141.86 473.77,142.00 473.42,142.14 473.07,142.29 472.73,142.43 472.40,142.58 472.07,142.73 471.75,142.88 471.43,143.04 471.11,143.19 470.80,143.35 470.49,143.51 470.19,143.67 469.88,143.83 469.59,143.99 469.29,144.15 468.99,144.31 468.70,144.48 468.41,144.64 468.12,144.81 467.83,144.97 467.55,145.14 467.26,145.30 466.97,145.47 466.69,145.63 466.40,145.80 466.12,145.96 465.84,146.13 465.56,146.28 465.29,146.44 465.02,146.60 464.75,146.75 464.49,146.91 464.23,147.06 463.97,147.22 463.72,147.37 463.47,147.53 463.22,147.69 462.97,147.85 462.72,148.01 462.48,148.17 462.23,148.33 461.99,148.50 461.74,148.67 461.50,148.85 461.26,149.03 461.02,149.21 460.77,149.40 460.53,149.59 460.29,149.79 460.04,149.99 459.80,150.20 459.55,150.41 459.30,150.63 459.05,150.86 458.80,151.10 458.54,151.35 458.29,151.60 458.02,151.87 457.76,152.15 457.49,152.43 457.22,152.73 456.95,153.03 456.67,153.34 456.40,153.65 456.13,153.97 455.85,154.30 455.58,154.62 455.30,154.95 455.03,155.29 454.76,155.62 454.49,155.95 454.23,156.28 453.97,156.62 453.71,156.94 453.45,157.27 453.20,157.59 452.95,157.91 452.71,158.22 452.48,158.53 452.25,158.83 452.02,159.12 451.81,159.41 451.60,159.68 451.39,159.95 451.20,160.20 451.01,160.44 450.84,160.67 450.66,160.88 450.50,161.08 450.34,161.26 450.19,161.44 450.04,161.61 449.90,161.77 449.77,161.92 449.64,162.07 449.51,162.22 449.39,162.36 449.27,162.51 449.15,162.65 449.04,162.79 448.93,162.94 448.82,163.09 448.71,163.25 448.60,163.41 448.50,163.58 448.39,163.76 448.29,163.95 448.18,164.15 448.07,164.37 447.97,164.60 447.86,164.84 447.75,165.10 447.63,165.38 447.52,165.68 447.40,166.00 447.28,166.34 447.16,166.70 447.04,167.09 446.92,167.49 446.80,167.91 446.68,168.34 446.56,168.79 446.44,169.25 446.32,169.72 446.20,170.21 446.08,170.70 445.96,171.20 445.85,171.71 445.73,172.22 445.61,172.74 445.50,173.26 445.38,173.78 445.27,174.29" fill="none" stroke="#2ecc2e" stroke-width="4.0" stroke-linecap="round" stroke-linejoin="round"/>
<polyline points="445.27,174.29 445.16,174.81 445.04,175.33 444.93,175.84 444.82,176.34 444.72,176.84 444.61,177.32 444.50,177.80 444.40,178.27 444.30,178.73 444.20,179.17 444.10,179.59 444.00,180.00 443.90,180.39 443.81,180.78 443.71,181.15 443.62,181.51 443.53,181.87 443.44,182.22 443.35,182.56 443.26,182.89 443.17,183.22 443.08,183.54 443.00,183.85 442.91,184.17 442.83,184.48 442.74,184.79 442.66,185.09 442.58,185.40 442.50,185.71 442.43,186.01 442.35,186.32 442.27,186.63 442.20,186.94 442.13,187.26 442.06,187.58 441.99,187.90 441.92,188.23 441.85,188.57 441.79,188.92 441.72,189.27 441.66,189.63 441.60,190.00 441.54,190.38 441.48,190.79 441.43,191.21 441.37,191.64 441.32,192.08 441.26,192.54 441.21,193.01 441.16,193.48 441.11,193.96 441.07,194.44 441.02,194.93 440.98,195.42 440.93,195.91 440.89,196.39 440.85,196.88 440.81,197.35 440.77,197.82 440.74,198.28 440.70,198.73 440.67,199.17 440.63,199.59 440.60,200.00 440.57,200.39 440.54,200.76 440.52,201.11 440.49,201.44 440.47,201.75 440.44,202.02 440.42,202.28 440.40,202.50" fill="none" stroke="#2ecc2e" stroke-width="2.7" stroke-linecap="round" stroke-linejoin="round"/>
<rect x="437.80" y="206.00" width="3.0" height="3.0" fill="#2ecc2e"/>
<rect x="437.30" y="201.50" width="3.0" height="3.0" fill="#2ecc2e"/>
<polyline points="320.00,117.40 320.13,117.39 320.27,117.39 320.41,117.38 320.56,117.38 320.71,117.37 320.86,117.37 321.03,117.36 321.19,117.36 321.37,117.35 321.56,117.34 321.75,117.34 321.95,117.33 322.17,117.32 322.39,117.31 322.62,117.31 322.87,117.30 323.13,117.29 323.41,117.28 323.70,117.27 324.00,117.26 324.32,117.24 324.65,117.23 325.01,117.22 325.38,117.20 325.76,117.19 326.17,117.17 326.60,117.16 327.04,117.14 327.51,117.12 328.00,117.10 328.51,117.08 329.04,117.06 329.60,117.04 330.17,117.01 330.76,116.99 331.38,116.97 332.01,116.94 332.65,116.92 333.32,116.89 334.00,116.86 334.70,116.84 335.41,116.81 336.13,116.78 336.87,116.75 337.62,116.72 338.39,116.69 339.17,116.66 339.95,116.62 340.75,116.59 341.56,116.56 342.37,116.53 343.19,116.49 344.03,116.46 344.86,116.42 345.71,116.39 346.56,116.35 347.41,116.31 348.27,116.28 349.13,116.24 350.00,116.20 350.88,116.16 351.79,116.12 352.72,116.09 353.68,116.05 354.65,116.02 355.65,115.98 356.66,115.95 357.69,115.91 358.73,115.87 359.78,115.84 360.84,115.80 361.90,115.76 362.98,115.72 364.05,115.68 365.12,115.64 366.20,115.60 367.27,115.56 368.34,115.51 369.39,115.47 370.44,115.42 371.48,115.37 372.51,115.32 373.52,115.26 374.51,115.20 375.49,115.14 376.44,115.08 377.37,115.02 378.27,114.95 379.15,114.87 380.00,114.80 380.83,114.72 381.63,114.64 382.43,114.56 383.21,114.47 383.97,114.39 384.72,114.30 385.46,114.21 386.18,114.11 386.89,114.02 387.59,113.92 388.28,113.82 388.96,113.72 389.63,113.61 390.29,113.51 390.94,113.40 391.58,113.29 392.21,113.18 392.84,113.07 393.46,112.95 394.07,112.84 394.68,112.72 395.29,112.60 395.88,112.48 396.48,112.36 397.07,112.24 397.66,112.11 398.25,111.98 398.83,111.86 399.42,111.73 400.00,111.60 400.58,111.47 401.16,111.34 401.73,111.21 402.29,111.07 402.85,110.94 403.40,110.80 403.95,110.67 404.49,110.53 405.02,110.39 405.56,110.25 406.08,110.11 406.60,109.96 407.11,109.82 407.62,109.67 408.12,109.52 408.62,109.37 409.11,109.21 409.60,109.06 410.08,108.90 410.56,108.74 411.02,108.58 411.49,108.41 411.95,108.25 412.40,108.08 412.85,107.90 413.29,107.73 413.73,107.55 414.16,107.37 414.58,107.19 415.00,107.00 415.41,106.81 415.82,106.61 416.23,106.42 416.62,106.21 417.01,106.01 417.40,105.80 417.78,105.58 418.16,105.37 418.52,105.15 418.89,104.93 419.25,104.70 419.60,104.48 419.95,104.25 420.29,104.02 420.62,103.79 420.96,103.56 421.28,103.32 421.60,103.09 421.91,102.85 422.22,102.62 422.52,102.38 422.82,102.15 423.11,101.91 423.40,101.68 423.68,101.45 423.96,101.21 424.23,100.98 424.49,100.75 424.75,100.53 425.00,100.30 425.25,100.08 425.48,99.85 425.71,99.63 425.93,99.41 426.15,99.19 426.35,98.97 426.55,98.75 426.74,98.53 426.93,98.31 427.11,98.09 427.29,97.87 427.46,97.64 427.62,97.42 427.78,97.20 427.94,96.98 428.09,96.76 428.24,96.54 428.38,96.31 428.53,96.09 428.67,95.86 428.80,95.63 428.94,95.40 429.07,95.17 429.21,94.94 429.34,94.70 429.47,94.47 429.60,94.23 429.74,93.99 429.87,93.75 430.00,93.50 430.13,93.25 430.26,93.01 430.38,92.76 430.50,92.51 430.62,92.27 430.74,92.02 430.85,91.77 430.96,91.52 431.06,91.27 431.17,91.01 431.27,90.76 431.37,90.51 431.47,90.25 431.56,89.99 431.66,89.73 431.75,89.47 431.84,89.20 431.93,88.94 432.02,88.67 432.11,88.40 432.20,88.12 432.29,87.84 432.38,87.56 432.46,87.28 432.55,86.99 432.64,86.70 432.73,86.41 432.82,86.11 432.91,85.81 433.00,85.50 433.09,85.19 433.18,84.87 433.28,84.54 433.37,84.20 433.46,83.85 433.55,83.50 433.64,83.15 433.73,82.79 433.82,82.42 433.91,82.06 434.00,81.68 434.09,81.31 434.18,80.94 434.27,80.56 434.36,80.19 434.44,79.81 434.53,79.44 434.61,79.07 434.69,78.70 434.77,78.33 434.85,77.97 434.93,77.61 435.01,77.26 435.08,76.92" fill="none" stroke="#0b2352" stroke-width="2.9" stroke-linecap="round" stroke-linejoin="round"/>
<path d="M320.00 119.34L321.80 116.10L318.20 116.10Z" fill="#0b2352"/>
<path d="M322.00 119.27L323.80 116.03L320.20 116.03Z" fill="#0b2352"/>
<path d="M324.00 119.20L325.80 115.96L322.20 115.96Z" fill="#0b2352"/>
<path d="M326.00 119.12L327.80 115.88L324.20 115.88Z" fill="#0b2352"/>
<path d="M327.99 119.04L329.79 115.80L326.19 115.80Z" fill="#0b2352"/>
<path d="M329.99 118.96L331.79 115.72L328.19 115.72Z" fill="#0b2352"/>
<path d="M331.99 118.89L333.79 115.65L330.19 115.65Z" fill="#0b2352"/>
<path d="M333.99 118.81L335.79 115.57L332.19 115.57Z" fill="#0b2352"/>
<path d="M335.99 118.73L337.79 115.49L334.19 115.49Z" fill="#0b2352"/>
<path d="M337.99 118.65L339.79 115.41L336.19 115.41Z" fill="#0b2352"/>
<path d="M339.98 118.57L341.78 115.33L338.18 115.33Z" fill="#0b2352"/>
<path d="M341.98 118.49L343.78 115.25L340.18 115.25Z" fill="#0b2352"/>
<path d="M343.98 118.40L345.78 115.16L342.18 115.16Z" fill="#0b2352"/>
<path d="M345.98 118.32L347.78 115.08L344.18 115.08Z" fill="#0b2352"/>
<path d="M347.98 118.23L349.78 114.99L346.18 114.99Z" fill="#0b2352"/>
<path d="M349.98 118.15L351.78 114.91L348.18 114.91Z" fill="#0b2352"/>
<path d="M351.97 118.06L353.77 114.82L350.17 114.82Z" fill="#0b2352"/>
<path d="M353.97 117.99L355.77 114.75L352.17 114.75Z" fill="#0b2352"/>
<path d="M355.97 117.91L357.77 114.67L354.17 114.67Z" fill="#0b2352"/>
<path d="M357.97 117.84L359.77 114.60L356.17 114.60Z" fill="#0b2352"/>
<path d="M359.97 117.77L361.77 114.53L358.17 114.53Z" fill="#0b2352"/>
<path d="M361.97 117.70L363.77 114.46L360.17 114.46Z" fill="#0b2352"/>
<path d="M363.97 117.63L365.77 114.39L362.17 114.39Z" fill="#0b2352"/>
<path d="M365.97 117.55L367.77 114.31L364.17 114.31Z" fill="#0b2352"/>
<path d="M367.96 117.47L369.76 114.23L366.16 114.23Z" fill="#0b2352"/>
<path d="M369.96 117.38L371.76 114.14L368.16 114.14Z" fill="#0b2352"/>
<path d="M371.96 117.29L373.76 114.05L370.16 114.05Z" fill="#0b2352"/>
<path d="M373.96 117.18L375.76 113.94L372.16 113.94Z" fill="#0b2352"/>
<path d="M375.95 117.06L377.75 113.82L374.15 113.82Z" fill="#0b2352"/>
<path d="M377.95 116.92L379.75 113.68L376.15 113.68Z" fill="#0b2352"/>
<path d="M379.94 116.75L381.74 113.51L378.14 113.51Z" fill="#0b2352"/>
<path d="M381.93 116.55L383.73 113.31L380.13 113.31Z" fill="#0b2352"/>
<path d="M383.92 116.34L385.72 113.10L382.12 113.10Z" fill="#0b2352"/>
<path d="M385.90 116.09L387.70 112.85L384.10 112.85Z" fill="#0b2352"/>
<path d="M387.89 115.82L389.69 112.58L386.09 112.58Z" fill="#0b2352"/>
<path d="M389.86 115.52L391.66 112.28L388.06 112.28Z" fill="#0b2352"/>
<path d="M391.84 115.19L393.64 111.95L390.04 111.95Z" fill="#0b2352"/>
<path d="M393.80 114.83L395.60 111.59L392.00 111.59Z" fill="#0b2352"/>
<path d="M395.77 114.45L397.57 111.21L393.97 111.21Z" fill="#0b2352"/>
<path d="M397.72 114.04L399.52 110.80L395.92 110.80Z" fill="#0b2352"/>
<path d="M399.68 113.62L401.48 110.38L397.88 110.38Z" fill="#0b2352"/>
<path d="M401.63 113.17L403.43 109.93L399.83 109.93Z" fill="#0b2352"/>
<path d="M403.57 112.70L405.37 109.46L401.77 109.46Z" fill="#0b2352"/>
<path d="M405.51 112.20L407.31 108.96L403.71 108.96Z" fill="#0b2352"/>
<path d="M407.44 111.67L409.24 108.43L405.64 108.43Z" fill="#0b2352"/>
<path d="M409.35 111.08L411.15 107.84L407.55 107.84Z" fill="#0b2352"/>
<path d="M411.24 110.44L413.04 107.20L409.44 107.20Z" fill="#0b2352"/>
<path d="M413.12 109.74L414.92 106.50L411.32 106.50Z" fill="#0b2352"/>
<path d="M414.96 108.96L416.76 105.72L413.16 105.72Z" fill="#0b2352"/>
<path d="M416.76 108.09L418.56 104.85L414.96 104.85Z" fill="#0b2352"/>
<path d="M418.50 107.11L420.30 103.87L416.70 103.87Z" fill="#0b2352"/>
<path d="M420.19 106.03L421.99 102.79L418.39 102.79Z" fill="#0b2352"/>
<path d="M421.81 104.87L423.61 101.63L420.01 101.63Z" fill="#0b2352"/>
<path d="M423.39 103.64L425.19 100.40L421.59 100.40Z" fill="#0b2352"/>
<path d="M424.90 102.33L426.70 99.09L423.10 99.09Z" fill="#0b2352"/>
<path d="M426.33 100.93L428.13 97.69L424.53 97.69Z" fill="#0b2352"/>
<path d="M427.60 99.39L429.40 96.15L425.80 96.15Z" fill="#0b2352"/>
<path d="M428.71 97.73L430.51 94.49L426.91 94.49Z" fill="#0b2352"/>
<path d="M429.70 95.99L431.50 92.75L427.90 92.75Z" fill="#0b2352"/>
<path d="M430.62 94.21L432.42 90.97L428.82 90.97Z" fill="#0b2352"/>
<path d="M431.40 92.37L433.20 89.13L429.60 89.13Z" fill="#0b2352"/>
<path d="M432.06 90.49L433.86 87.25L430.26 87.25Z" fill="#0b2352"/>
<path d="M432.66 88.58L434.46 85.34L430.86 85.34Z" fill="#0b2352"/>
<path d="M433.23 86.66L435.03 83.42L431.43 83.42Z" fill="#0b2352"/>
<path d="M433.74 84.72L435.54 81.48L431.94 81.48Z" fill="#0b2352"/>
<path d="M434.21 82.78L436.01 79.54L432.41 79.54Z" fill="#0b2352"/>
<path d="M434.65 80.83L436.45 77.59L432.85 77.59Z" fill="#0b2352"/>
<path d="M435.08 78.88L436.88 75.64L433.28 75.64Z" fill="#0b2352"/>
<path d="M435.91 75.07L437.81 71.65L434.01 71.65Z" fill="#0b2352"/>
<path d="M436.62 71.14L438.52 67.72L434.72 67.72Z" fill="#0b2352"/>
<path d="M437.21 67.18L439.11 63.76L435.31 63.76Z" fill="#0b2352"/>
<path d="M437.71 63.21L439.61 59.79L435.81 59.79Z" fill="#0b2352"/>
<path d="M438.18 59.24L440.08 55.82L436.28 55.82Z" fill="#0b2352"/>
<path d="M438.45 55.25L440.35 51.83L436.55 51.83Z" fill="#0b2352"/>
<polyline points="441.42,76.66 441.48,76.99 441.55,77.32 441.62,77.66 441.70,78.00 441.78,78.35 441.86,78.71 441.95,79.08 442.03,79.46 442.12,79.84 442.21,80.23 442.30,80.63 442.40,81.03 442.50,81.43 442.60,81.84 442.70,82.25 442.80,82.67 442.91,83.08 443.02,83.50 443.12,83.92 443.24,84.34 443.35,84.75 443.47,85.17 443.58,85.58 443.70,85.99 443.83,86.40 443.95,86.80 444.07,87.20 444.20,87.59 444.33,87.98 444.46,88.36 444.59,88.73 444.73,89.10 444.86,89.45 445.00,89.80 445.14,90.14 445.27,90.47 445.41,90.80 445.54,91.12 445.68,91.44 445.81,91.76 445.95,92.07 446.08,92.37 446.22,92.67 446.36,92.97 446.50,93.26 446.64,93.56 446.78,93.84 446.93,94.13 447.08,94.41 447.24,94.69 447.40,94.97 447.56,95.25 447.73,95.52 447.90,95.80 448.08,96.07 448.26,96.34 448.45,96.61 448.65,96.88 448.86,97.15 449.07,97.42 449.29,97.69 449.52,97.96 449.75,98.23 450.00,98.50 450.25,98.77 450.51,99.04 450.78,99.31 451.04,99.58 451.32,99.85 451.60,100.12 451.89,100.38 452.18,100.65 452.47,100.91 452.78,101.17 453.09,101.44 453.40,101.70 453.72,101.95 454.04,102.21 454.38,102.47 454.71,102.72 455.05,102.98 455.40,103.23 455.75,103.48 456.11,103.73 456.47,103.97 456.84,104.22 457.22,104.46 457.60,104.70 457.99,104.94 458.38,105.18 458.77,105.41 459.18,105.64 459.59,105.87 460.00,106.10 460.42,106.33 460.85,106.55 461.30,106.78 461.75,107.00 462.21,107.23 462.68,107.45 463.16,107.67 463.64,107.89 464.13,108.11 464.63,108.33 465.13,108.55 465.64,108.76 466.15,108.97 466.67,109.18 467.19,109.39 467.71,109.59 468.23,109.79 468.76,109.99 469.29,110.19 469.81,110.38 470.34,110.57 470.87,110.76 471.40,110.94 471.92,111.12 472.44,111.29 472.96,111.46 473.48,111.63 473.99,111.79 474.50,111.95 475.00,112.10 475.49,112.25 475.97,112.39 476.43,112.53 476.88,112.66 477.33,112.79 477.76,112.91 478.19,113.03 478.61,113.14 479.03,113.26 479.44,113.36 479.86,113.47 480.28,113.57 480.70,113.67 481.13,113.76 481.56,113.86 482.00,113.95 482.46,114.04 482.92,114.12 483.40,114.21 483.89,114.29 484.40,114.38 484.92,114.46 485.47,114.54 486.04,114.62 486.63,114.70 487.25,114.78 487.89,114.86 488.56,114.94 489.27,115.02 490.00,115.10 490.77,115.18 491.57,115.26 492.41,115.34 493.27,115.42 494.17,115.49 495.09,115.57 496.03,115.64 497.00,115.72 497.99,115.79 499.00,115.86 500.02,115.93 501.06,116.00 502.12,116.06 503.18,116.13 504.25,116.19 505.33,116.26 506.41,116.32 507.50,116.38 508.58,116.44 509.67,116.50 510.75,116.55 511.82,116.61 512.89,116.66 513.95,116.71 515.00,116.77 516.03,116.82 517.05,116.86 518.06,116.91 519.04,116.96 520.00,117.00 520.96,117.04 521.93,117.08 522.91,117.12 523.90,117.16 524.89,117.19 525.90,117.22 526.90,117.26 527.91,117.29 528.92,117.31 529.93,117.34 530.93,117.37 531.93,117.39 532.92,117.41 533.90,117.44 534.88,117.46 535.84,117.48 536.78,117.50 537.71,117.51 538.62,117.53 539.52,117.55 540.39,117.56 541.24,117.58 542.07,117.60 542.86,117.61 543.63,117.63 544.37,117.64 545.08,117.66 545.76,117.67 546.40,117.69 547.00,117.70 547.57,117.71 548.10,117.73 548.61,117.74 549.08,117.75 549.53,117.76 549.94,117.78 550.34,117.79 550.70,117.79 551.05,117.80 551.37,117.81 551.67,117.82 551.95,117.83 552.21,117.83 552.46,117.84 552.69,117.84 552.90,117.85 553.10,117.85 553.29,117.86 553.46,117.86 553.63,117.87 553.79,117.87 553.94,117.87 554.08,117.88 554.22,117.88 554.35,117.88 554.48,117.89 554.61,117.89 554.74,117.89 554.87,117.90 555.00,117.90" fill="none" stroke="#0b2352" stroke-width="2.9" stroke-linecap="round" stroke-linejoin="round"/>
<path d="M438.70 54.05L440.60 50.63L436.80 50.63Z" fill="#0b2352"/>
<path d="M438.91 58.05L440.81 54.63L437.01 54.63Z" fill="#0b2352"/>
<path d="M439.20 62.04L441.10 58.62L437.30 58.62Z" fill="#0b2352"/>
<path d="M439.63 66.01L441.53 62.59L437.73 62.59Z" fill="#0b2352"/>
<path d="M440.15 69.98L442.05 66.56L438.25 66.56Z" fill="#0b2352"/>
<path d="M440.67 73.94L442.57 70.52L438.77 70.52Z" fill="#0b2352"/>
<path d="M441.26 77.90L443.16 74.48L439.36 74.48Z" fill="#0b2352"/>
<path d="M441.66 79.75L443.46 76.51L439.86 76.51Z" fill="#0b2352"/>
<path d="M442.10 81.70L443.90 78.46L440.30 78.46Z" fill="#0b2352"/>
<path d="M442.56 83.65L444.36 80.41L440.76 80.41Z" fill="#0b2352"/>
<path d="M443.05 85.59L444.85 82.35L441.25 82.35Z" fill="#0b2352"/>
<path d="M443.58 87.52L445.38 84.28L441.78 84.28Z" fill="#0b2352"/>
<path d="M444.17 89.43L445.97 86.19L442.37 86.19Z" fill="#0b2352"/>
<path d="M444.83 91.31L446.63 88.07L443.03 88.07Z" fill="#0b2352"/>
<path d="M445.58 93.17L447.38 89.93L443.78 89.93Z" fill="#0b2352"/>
<path d="M446.39 95.00L448.19 91.76L444.59 91.76Z" fill="#0b2352"/>
<path d="M447.31 96.77L449.11 93.53L445.51 93.53Z" fill="#0b2352"/>
<path d="M448.39 98.46L450.19 95.22L446.59 95.22Z" fill="#0b2352"/>
<path d="M449.63 100.03L451.43 96.79L447.83 96.79Z" fill="#0b2352"/>
<path d="M451.00 101.48L452.80 98.24L449.20 98.24Z" fill="#0b2352"/>
<path d="M452.46 102.84L454.26 99.60L450.66 99.60Z" fill="#0b2352"/>
<path d="M454.00 104.12L455.80 100.88L452.20 100.88Z" fill="#0b2352"/>
<path d="M455.60 105.32L457.40 102.08L453.80 102.08Z" fill="#0b2352"/>
<path d="M457.26 106.43L459.06 103.19L455.46 103.19Z" fill="#0b2352"/>
<path d="M458.97 107.47L460.77 104.23L457.17 104.23Z" fill="#0b2352"/>
<path d="M460.73 108.43L462.53 105.19L458.93 105.19Z" fill="#0b2352"/>
<path d="M462.52 109.32L464.32 106.08L460.72 106.08Z" fill="#0b2352"/>
<path d="M464.34 110.15L466.14 106.91L462.54 106.91Z" fill="#0b2352"/>
<path d="M466.18 110.93L467.98 107.69L464.38 107.69Z" fill="#0b2352"/>
<path d="M468.04 111.66L469.84 108.42L466.24 108.42Z" fill="#0b2352"/>
<path d="M469.91 112.36L471.71 109.12L468.11 109.12Z" fill="#0b2352"/>
<path d="M471.80 113.02L473.60 109.78L470.00 109.78Z" fill="#0b2352"/>
<path d="M473.70 113.64L475.50 110.40L471.90 110.40Z" fill="#0b2352"/>
<path d="M475.62 114.23L477.42 110.99L473.82 110.99Z" fill="#0b2352"/>
<path d="M477.54 114.79L479.34 111.55L475.74 111.55Z" fill="#0b2352"/>
<path d="M479.47 115.31L481.27 112.07L477.67 112.07Z" fill="#0b2352"/>
<path d="M481.41 115.77L483.21 112.53L479.61 112.53Z" fill="#0b2352"/>
<path d="M483.38 116.15L485.18 112.91L481.58 112.91Z" fill="#0b2352"/>
<path d="M485.35 116.46L487.15 113.22L483.55 113.22Z" fill="#0b2352"/>
<path d="M487.33 116.73L489.13 113.49L485.53 113.49Z" fill="#0b2352"/>
<path d="M489.32 116.97L491.12 113.73L487.52 113.73Z" fill="#0b2352"/>
<path d="M491.31 117.18L493.11 113.94L489.51 113.94Z" fill="#0b2352"/>
<path d="M493.30 117.36L495.10 114.12L491.50 114.12Z" fill="#0b2352"/>
<path d="M495.29 117.53L497.09 114.29L493.49 114.29Z" fill="#0b2352"/>
<path d="M497.29 117.68L499.09 114.44L495.49 114.44Z" fill="#0b2352"/>
<path d="M499.28 117.82L501.08 114.58L497.48 114.58Z" fill="#0b2352"/>
<path d="M501.28 117.95L503.08 114.71L499.48 114.71Z" fill="#0b2352"/>
<path d="M503.27 118.08L505.07 114.84L501.47 114.84Z" fill="#0b2352"/>
<path d="M505.27 118.20L507.07 114.96L503.47 114.96Z" fill="#0b2352"/>
<path d="M507.27 118.31L509.07 115.07L505.47 115.07Z" fill="#0b2352"/>
<path d="M509.26 118.42L511.06 115.18L507.46 115.18Z" fill="#0b2352"/>
<path d="M511.26 118.52L513.06 115.28L509.46 115.28Z" fill="#0b2352"/>
<path d="M513.26 118.62L515.06 115.38L511.46 115.38Z" fill="#0b2352"/>
<path d="M515.26 118.72L517.06 115.48L513.46 115.48Z" fill="#0b2352"/>
<path d="M517.25 118.82L519.05 115.58L515.45 115.58Z" fill="#0b2352"/>
<path d="M519.25 118.91L521.05 115.67L517.45 115.67Z" fill="#0b2352"/>
<path d="M521.25 119.00L523.05 115.76L519.45 115.76Z" fill="#0b2352"/>
<path d="M523.25 119.08L525.05 115.84L521.45 115.84Z" fill="#0b2352"/>
<path d="M525.25 119.15L527.05 115.91L523.45 115.91Z" fill="#0b2352"/>
<path d="M527.25 119.21L529.05 115.97L525.45 115.97Z" fill="#0b2352"/>
<path d="M529.25 119.27L531.05 116.03L527.45 116.03Z" fill="#0b2352"/>
<path d="M531.24 119.32L533.04 116.08L529.44 116.08Z" fill="#0b2352"/>
<path d="M533.24 119.36L535.04 116.12L531.44 116.12Z" fill="#0b2352"/>
<path d="M535.24 119.41L537.04 116.17L533.44 116.17Z" fill="#0b2352"/>
<path d="M537.24 119.45L539.04 116.21L535.44 116.21Z" fill="#0b2352"/>
<path d="M539.24 119.49L541.04 116.25L537.44 116.25Z" fill="#0b2352"/>
<path d="M541.24 119.52L543.04 116.28L539.44 116.28Z" fill="#0b2352"/>
<path d="M543.24 119.56L545.04 116.32L541.44 116.32Z" fill="#0b2352"/>
<path d="M545.24 119.60L547.04 116.36L543.44 116.36Z" fill="#0b2352"/>
<path d="M547.24 119.65L549.04 116.41L545.44 116.41Z" fill="#0b2352"/>
<path d="M549.24 119.70L551.04 116.46L547.44 116.46Z" fill="#0b2352"/>
<path d="M551.24 119.75L553.04 116.51L549.44 116.51Z" fill="#0b2352"/>
<path d="M553.24 119.80L555.04 116.56L551.44 116.56Z" fill="#0b2352"/>
<polyline points="320.00,129.00 320.13,129.00 320.27,129.00 320.41,129.01 320.56,129.01 320.71,129.01 320.86,129.01 321.03,129.01 321.19,129.01 321.37,129.02 321.56,129.02 321.75,129.02 321.95,129.02 322.17,129.03 322.39,129.03 322.62,129.03 322.87,129.03 323.13,129.04 323.41,129.04 323.70,129.04 324.00,129.05 324.32,129.05 324.65,129.06 325.01,129.06 325.38,129.07 325.76,129.07 326.17,129.08 326.60,129.08 327.04,129.09 327.51,129.09 328.00,129.10 328.51,129.11 329.04,129.11 329.60,129.12 330.17,129.12 330.76,129.13 331.38,129.13 332.01,129.13 332.65,129.14 333.32,129.14 334.00,129.14 334.70,129.15 335.41,129.15 336.13,129.16 336.87,129.16 337.62,129.17 338.39,129.18 339.17,129.18 339.95,129.19 340.75,129.20 341.56,129.21 342.37,129.22 343.19,129.24 344.03,129.25 344.86,129.27 345.71,129.28 346.56,129.30 347.41,129.32 348.27,129.35 349.13,129.37 350.00,129.40 350.88,129.43 351.79,129.46 352.72,129.49 353.68,129.51 354.65,129.54 355.65,129.57 356.66,129.61 357.69,129.64 358.73,129.67 359.78,129.70 360.84,129.74 361.90,129.78 362.98,129.81 364.05,129.85 365.12,129.89 366.20,129.94 367.27,129.98 368.34,130.03 369.39,130.08 370.44,130.13 371.48,130.18 372.51,130.24 373.52,130.30 374.51,130.36 375.49,130.43 376.44,130.49 377.37,130.57 378.27,130.64 379.15,130.72 380.00,130.80 380.82,130.88 381.63,130.97 382.43,131.06 383.20,131.16 383.97,131.26 384.72,131.36 385.45,131.46 386.18,131.56 386.89,131.67 387.59,131.78 388.27,131.89 388.95,132.01 389.62,132.13 390.28,132.25 390.93,132.37 391.57,132.49 392.20,132.62 392.83,132.75 393.45,132.88 394.06,133.01 394.67,133.14 395.27,133.28 395.87,133.41 396.47,133.55 397.06,133.69 397.65,133.83 398.24,133.97 398.83,134.11 399.41,134.26 400.00,134.40 400.59,134.55 401.17,134.70 401.75,134.85 402.33,135.00 402.90,135.16 403.47,135.32 404.03,135.49 404.60,135.65 405.15,135.82 405.70,135.99 406.25,136.16 406.79,136.33 407.32,136.51 407.85,136.68 408.37,136.86 408.89,137.03 409.40,137.21 409.90,137.39 410.39,137.57 410.87,137.74 411.35,137.92 411.82,138.10 412.27,138.28 412.72,138.46 413.16,138.63 413.59,138.81 414.01,138.98 414.42,139.16 414.81,139.33 415.20,139.50 415.57,139.67 415.93,139.83 416.27,139.99 416.60,140.15 416.91,140.30 417.21,140.45 417.50,140.60 417.78,140.75 418.05,140.89 418.31,141.04 418.56,141.19 418.81,141.33 419.04,141.48 419.27,141.63 419.50,141.78 419.72,141.93 419.94,142.09 420.15,142.25 420.37,142.41 420.58,142.58 420.79,142.75 421.00,142.93 421.21,143.12 421.43,143.30 421.64,143.50 421.87,143.70 422.09,143.92 422.32,144.14 422.56,144.36 422.80,144.60 423.05,144.85 423.30,145.10 423.55,145.36 423.80,145.63 424.06,145.91 424.32,146.19 424.57,146.48 424.83,146.77 425.09,147.07 425.35,147.37 425.61,147.68 425.86,148.00 426.12,148.32 426.37,148.64 426.62,148.96 426.88,149.29 427.12,149.62 427.37,149.95 427.61,150.29 427.85,150.63 428.09,150.96 428.32,151.30 428.55,151.64 428.77,151.98 428.99,152.32 429.20,152.66 429.41,153.00 429.61,153.33 429.81,153.67 430.00,154.00 430.18,154.33 430.36,154.66 430.54,154.98 430.71,155.31 430.87,155.63 431.03,155.95 431.19,156.27 431.34,156.59 431.49,156.91 431.63,157.23 431.77,157.56 431.91,157.88 432.05,158.21 432.18,158.54 432.31,158.87 432.43,159.20 432.56,159.54 432.68,159.89 432.79,160.24 432.91,160.59 433.03,160.95 433.14,161.31 433.25,161.68 433.36,162.06 433.47,162.45 433.58,162.84 433.68,163.24 433.79,163.65 433.89,164.07 434.00,164.50 434.10,164.94 434.20,165.40 434.30,165.86 434.40,166.34 434.49,166.83 434.59,167.34 434.68,167.85 434.76,168.37" fill="none" stroke="#0b2352" stroke-width="3.8" stroke-linecap="round" stroke-linejoin="round"/>
<path d="M320.00 131.27L322.10 127.49L317.90 127.49Z" fill="#0b2352"/>
<path d="M322.00 131.29L324.10 127.51L319.90 127.51Z" fill="#0b2352"/>
<path d="M324.00 131.32L326.10 127.54L321.90 127.54Z" fill="#0b2352"/>
<path d="M326.00 131.34L328.10 127.56L323.90 127.56Z" fill="#0b2352"/>
<path d="M328.00 131.37L330.10 127.59L325.90 127.59Z" fill="#0b2352"/>
<path d="M330.00 131.39L332.10 127.61L327.90 127.61Z" fill="#0b2352"/>
<path d="M332.00 131.40L334.10 127.62L329.90 127.62Z" fill="#0b2352"/>
<path d="M334.00 131.41L336.10 127.63L331.90 127.63Z" fill="#0b2352"/>
<path d="M336.00 131.42L338.10 127.64L333.90 127.64Z" fill="#0b2352"/>
<path d="M338.00 131.44L340.10 127.66L335.90 127.66Z" fill="#0b2352"/>
<path d="M340.00 131.46L342.10 127.68L337.90 127.68Z" fill="#0b2352"/>
<path d="M342.00 131.49L344.10 127.71L339.90 127.71Z" fill="#0b2352"/>
<path d="M344.00 131.52L346.10 127.74L341.90 127.74Z" fill="#0b2352"/>
<path d="M346.00 131.56L348.10 127.78L343.90 127.78Z" fill="#0b2352"/>
<path d="M348.00 131.61L350.10 127.83L345.90 127.83Z" fill="#0b2352"/>
<path d="M350.00 131.67L352.10 127.89L347.90 127.89Z" fill="#0b2352"/>
<path d="M352.00 131.73L354.10 127.95L349.90 127.95Z" fill="#0b2352"/>
<path d="M353.99 131.79L356.09 128.01L351.89 128.01Z" fill="#0b2352"/>
<path d="M355.99 131.85L358.09 128.07L353.89 128.07Z" fill="#0b2352"/>
<path d="M357.99 131.91L360.09 128.13L355.89 128.13Z" fill="#0b2352"/>
<path d="M359.99 131.98L362.09 128.20L357.89 128.20Z" fill="#0b2352"/>
<path d="M361.99 132.05L364.09 128.27L359.89 128.27Z" fill="#0b2352"/>
<path d="M363.99 132.12L366.09 128.34L361.89 128.34Z" fill="#0b2352"/>
<path d="M365.99 132.20L368.09 128.42L363.89 128.42Z" fill="#0b2352"/>
<path d="M367.99 132.28L370.09 128.50L365.89 128.50Z" fill="#0b2352"/>
<path d="M369.98 132.37L372.08 128.59L367.88 128.59Z" fill="#0b2352"/>
<path d="M371.98 132.48L374.08 128.70L369.88 128.70Z" fill="#0b2352"/>
<path d="M373.98 132.60L376.08 128.82L371.88 128.82Z" fill="#0b2352"/>
<path d="M375.97 132.73L378.07 128.95L373.87 128.95Z" fill="#0b2352"/>
<path d="M377.97 132.88L380.07 129.10L375.87 129.10Z" fill="#0b2352"/>
<path d="M379.96 133.06L382.06 129.28L377.86 129.28Z" fill="#0b2352"/>
<path d="M381.95 133.28L384.05 129.50L379.85 129.50Z" fill="#0b2352"/>
<path d="M383.93 133.52L386.03 129.74L381.83 129.74Z" fill="#0b2352"/>
<path d="M385.91 133.79L388.01 130.01L383.81 130.01Z" fill="#0b2352"/>
<path d="M387.89 134.10L389.99 130.32L385.79 130.32Z" fill="#0b2352"/>
<path d="M389.86 134.44L391.96 130.66L387.76 130.66Z" fill="#0b2352"/>
<path d="M391.83 134.81L393.93 131.03L389.73 131.03Z" fill="#0b2352"/>
<path d="M393.78 135.22L395.88 131.44L391.68 131.44Z" fill="#0b2352"/>
<path d="M395.74 135.65L397.84 131.87L393.64 131.87Z" fill="#0b2352"/>
<path d="M397.69 136.10L399.79 132.32L395.59 132.32Z" fill="#0b2352"/>
<path d="M399.63 136.58L401.73 132.80L397.53 132.80Z" fill="#0b2352"/>
<path d="M401.57 137.07L403.67 133.29L399.47 133.29Z" fill="#0b2352"/>
<path d="M403.50 137.60L405.60 133.82L401.40 133.82Z" fill="#0b2352"/>
<path d="M405.41 138.17L407.51 134.39L403.31 134.39Z" fill="#0b2352"/>
<path d="M407.32 138.77L409.42 134.99L405.22 134.99Z" fill="#0b2352"/>
<path d="M409.21 139.41L411.31 135.63L407.11 135.63Z" fill="#0b2352"/>
<path d="M411.09 140.09L413.19 136.31L408.99 136.31Z" fill="#0b2352"/>
<path d="M412.96 140.82L415.06 137.04L410.86 137.04Z" fill="#0b2352"/>
<path d="M414.80 141.59L416.90 137.81L412.70 137.81Z" fill="#0b2352"/>
<path d="M416.62 142.43L418.72 138.65L414.52 138.65Z" fill="#0b2352"/>
<path d="M418.39 143.36L420.49 139.58L416.29 139.58Z" fill="#0b2352"/>
<path d="M420.06 144.45L422.16 140.67L417.96 140.67Z" fill="#0b2352"/>
<path d="M421.60 145.73L423.70 141.95L419.50 141.95Z" fill="#0b2352"/>
<path d="M423.05 147.11L425.15 143.33L420.95 143.33Z" fill="#0b2352"/>
<path d="M424.42 148.57L426.52 144.79L422.32 144.79Z" fill="#0b2352"/>
<path d="M425.72 150.09L427.82 146.31L423.62 146.31Z" fill="#0b2352"/>
<path d="M426.95 151.66L429.05 147.88L424.85 147.88Z" fill="#0b2352"/>
<path d="M428.12 153.28L430.22 149.50L426.02 149.50Z" fill="#0b2352"/>
<path d="M429.22 154.95L431.32 151.17L427.12 151.17Z" fill="#0b2352"/>
<path d="M430.23 156.68L432.33 152.90L428.13 152.90Z" fill="#0b2352"/>
<path d="M431.15 158.46L433.25 154.68L429.05 154.68Z" fill="#0b2352"/>
<path d="M431.97 160.28L434.07 156.50L429.87 156.50Z" fill="#0b2352"/>
<path d="M432.67 162.15L434.77 158.37L430.57 158.37Z" fill="#0b2352"/>
<path d="M433.28 164.06L435.38 160.28L431.18 160.28Z" fill="#0b2352"/>
<path d="M433.81 165.99L435.91 162.21L431.71 162.21Z" fill="#0b2352"/>
<path d="M434.26 167.93L436.36 164.15L432.16 164.15Z" fill="#0b2352"/>
<path d="M434.64 169.90L436.74 166.12L432.54 166.12Z" fill="#0b2352"/>
<path d="M435.25 173.63L437.15 170.21L433.35 170.21Z" fill="#0b2352"/>
<path d="M435.76 177.60L437.66 174.18L433.86 174.18Z" fill="#0b2352"/>
<path d="M436.24 181.57L438.14 178.15L434.34 178.15Z" fill="#0b2352"/>
<path d="M436.71 185.54L438.61 182.12L434.81 182.12Z" fill="#0b2352"/>
<path d="M437.10 189.52L439.00 186.10L435.20 186.10Z" fill="#0b2352"/>
<path d="M437.45 193.51L439.35 190.09L435.55 190.09Z" fill="#0b2352"/>
<path d="M437.77 197.50L439.67 194.08L435.87 194.08Z" fill="#0b2352"/>
<polyline points="555.00,129.60 554.87,129.60 554.74,129.60 554.61,129.60 554.48,129.60 554.35,129.59 554.22,129.59 554.08,129.59 553.94,129.58 553.79,129.58 553.63,129.57 553.46,129.57 553.29,129.57 553.10,129.56 552.90,129.56 552.69,129.56 552.46,129.55 552.21,129.55 551.95,129.55 551.67,129.56 551.37,129.56 551.05,129.56 550.70,129.57 550.34,129.58 549.94,129.59 549.53,129.60 549.08,129.62 548.61,129.63 548.10,129.65 547.57,129.67 547.00,129.70 546.40,129.73 545.76,129.76 545.08,129.79 544.37,129.82 543.63,129.85 542.86,129.89 542.07,129.92 541.24,129.96 540.39,130.00 539.52,130.04 538.62,130.08 537.71,130.13 536.78,130.17 535.84,130.22 534.88,130.27 533.90,130.32 532.92,130.37 531.93,130.42 530.93,130.48 529.93,130.54 528.92,130.60 527.91,130.66 526.90,130.72 525.90,130.78 524.89,130.85 523.90,130.91 522.91,130.98 521.93,131.05 520.96,131.13 520.00,131.20 519.04,131.28 518.05,131.36 517.05,131.45 516.03,131.53 514.99,131.63 513.94,131.72 512.87,131.82 511.80,131.93 510.72,132.03 509.63,132.14 508.54,132.25 507.45,132.35 506.36,132.46 505.27,132.58 504.19,132.69 503.11,132.80 502.05,132.91 500.99,133.02 499.95,133.13 498.93,133.24 497.92,133.35 496.93,133.45 495.97,133.56 495.02,133.66 494.11,133.76 493.22,133.85 492.37,133.95 491.54,134.03 490.75,134.12 490.00,134.20 489.28,134.28 488.59,134.35 487.93,134.42 487.30,134.48 486.69,134.54 486.11,134.60 485.54,134.66 485.00,134.71 484.49,134.76 483.99,134.81 483.50,134.86 483.04,134.91 482.59,134.96 482.15,135.00 481.73,135.05 481.31,135.10 480.91,135.14 480.52,135.19 480.13,135.24 479.75,135.29 479.37,135.34 479.00,135.39 478.63,135.44 478.26,135.50 477.89,135.56 477.52,135.62 477.15,135.68 476.77,135.75 476.39,135.82 476.00,135.90 475.61,135.98 475.23,136.06 474.85,136.14 474.48,136.23 474.12,136.32 473.77,136.40 473.42,136.49 473.07,136.59 472.73,136.68 472.40,136.77 472.07,136.87 471.75,136.97 471.43,137.07 471.11,137.17 470.80,137.27 470.49,137.37 470.19,137.48 469.88,137.58 469.59,137.69 469.29,137.79 468.99,137.90 468.70,138.01 468.41,138.12 468.12,138.23 467.83,138.34 467.55,138.45 467.26,138.56 466.97,138.67 466.69,138.79 466.40,138.90 466.12,139.01 465.84,139.13 465.56,139.24 465.29,139.35 465.02,139.46 464.75,139.57 464.49,139.68 464.23,139.80 463.97,139.91 463.72,140.02 463.47,140.14 463.22,140.25 462.97,140.37 462.72,140.49 462.48,140.61 462.23,140.73 461.99,140.85 461.74,140.98 461.50,141.10 461.26,141.23 461.02,141.37 460.77,141.50 460.53,141.64 460.29,141.78 460.04,141.92 459.80,142.07 459.55,142.22 459.30,142.38 459.05,142.54 458.80,142.70 458.55,142.87 458.29,143.04 458.03,143.21 457.78,143.39 457.52,143.57 457.26,143.75 457.00,143.93 456.73,144.12 456.47,144.31 456.21,144.51 455.95,144.70 455.69,144.90 455.43,145.10 455.17,145.31 454.91,145.51 454.65,145.72 454.39,145.93 454.13,146.14 453.88,146.36 453.62,146.57 453.37,146.79 453.12,147.01 452.87,147.23 452.62,147.45 452.38,147.67 452.14,147.89 451.90,148.12 451.66,148.35 451.43,148.57 451.20,148.80 450.97,149.03 450.75,149.26 450.52,149.49 450.30,149.73 450.07,149.97 449.85,150.21 449.63,150.45 449.41,150.69 449.20,150.94 448.98,151.19 448.77,151.43 448.56,151.68 448.35,151.94 448.14,152.19 447.93,152.44 447.73,152.70 447.52,152.96 447.32,153.22 447.13,153.48 446.93,153.74 446.74,154.00 446.54,154.26 446.35,154.53 446.17,154.79 445.98,155.06 445.80,155.33 445.62,155.59 445.45,155.86 445.27,156.13 445.10,156.40 444.93,156.67 444.76,156.93 444.60,157.19 444.43,157.45 444.27,157.70 444.11,157.95 443.96,158.20 443.80,158.45 443.65,158.70 443.50,158.96 443.35,159.21 443.20,159.46 443.06,159.72 442.91,159.98 442.78,160.24 442.64,160.50 442.50,160.77 442.37,161.05 442.24,161.33 442.11,161.62 441.99,161.92 441.87,162.22 441.75,162.53 441.63,162.85 441.52,163.18 441.41,163.53 441.30,163.88 441.20,164.24 441.10,164.61 441.00,165.00 440.91,165.40 440.81,165.82 440.73,166.25 440.64,166.70 440.56,167.16 440.49,167.64 440.41,168.12" fill="none" stroke="#0b2352" stroke-width="3.8" stroke-linecap="round" stroke-linejoin="round"/>
<path d="M555.00 131.87L557.10 128.09L552.90 128.09Z" fill="#0b2352"/>
<path d="M553.00 131.83L555.10 128.05L550.90 128.05Z" fill="#0b2352"/>
<path d="M551.00 131.83L553.10 128.05L548.90 128.05Z" fill="#0b2352"/>
<path d="M549.00 131.89L551.10 128.11L546.90 128.11Z" fill="#0b2352"/>
<path d="M547.00 131.97L549.10 128.19L544.90 128.19Z" fill="#0b2352"/>
<path d="M545.01 132.06L547.11 128.28L542.91 128.28Z" fill="#0b2352"/>
<path d="M543.01 132.15L545.11 128.37L540.91 128.37Z" fill="#0b2352"/>
<path d="M541.01 132.24L543.11 128.46L538.91 128.46Z" fill="#0b2352"/>
<path d="M539.01 132.33L541.11 128.55L536.91 128.55Z" fill="#0b2352"/>
<path d="M537.01 132.43L539.11 128.65L534.91 128.65Z" fill="#0b2352"/>
<path d="M535.02 132.53L537.12 128.75L532.92 128.75Z" fill="#0b2352"/>
<path d="M533.02 132.63L535.12 128.85L530.92 128.85Z" fill="#0b2352"/>
<path d="M531.02 132.74L533.12 128.96L528.92 128.96Z" fill="#0b2352"/>
<path d="M529.03 132.86L531.13 129.08L526.93 129.08Z" fill="#0b2352"/>
<path d="M527.03 132.98L529.13 129.20L524.93 129.20Z" fill="#0b2352"/>
<path d="M525.03 133.11L527.13 129.33L522.93 129.33Z" fill="#0b2352"/>
<path d="M523.04 133.24L525.14 129.46L520.94 129.46Z" fill="#0b2352"/>
<path d="M521.04 133.39L523.14 129.61L518.94 129.61Z" fill="#0b2352"/>
<path d="M519.05 133.54L521.15 129.76L516.95 129.76Z" fill="#0b2352"/>
<path d="M517.06 133.71L519.16 129.93L514.96 129.93Z" fill="#0b2352"/>
<path d="M515.06 133.89L517.16 130.11L512.96 130.11Z" fill="#0b2352"/>
<path d="M513.07 134.07L515.17 130.29L510.97 130.29Z" fill="#0b2352"/>
<path d="M511.08 134.26L513.18 130.48L508.98 130.48Z" fill="#0b2352"/>
<path d="M509.09 134.46L511.19 130.68L506.99 130.68Z" fill="#0b2352"/>
<path d="M507.10 134.66L509.20 130.88L505.00 130.88Z" fill="#0b2352"/>
<path d="M505.11 134.86L507.21 131.08L503.01 131.08Z" fill="#0b2352"/>
<path d="M503.12 135.07L505.22 131.29L501.02 131.29Z" fill="#0b2352"/>
<path d="M501.13 135.27L503.23 131.49L499.03 131.49Z" fill="#0b2352"/>
<path d="M499.14 135.49L501.24 131.71L497.04 131.71Z" fill="#0b2352"/>
<path d="M497.16 135.70L499.26 131.92L495.06 131.92Z" fill="#0b2352"/>
<path d="M495.17 135.91L497.27 132.13L493.07 132.13Z" fill="#0b2352"/>
<path d="M493.18 136.13L495.28 132.35L491.08 132.35Z" fill="#0b2352"/>
<path d="M491.19 136.34L493.29 132.56L489.09 132.56Z" fill="#0b2352"/>
<path d="M489.20 136.55L491.30 132.77L487.10 132.77Z" fill="#0b2352"/>
<path d="M487.21 136.76L489.31 132.98L485.11 132.98Z" fill="#0b2352"/>
<path d="M485.22 136.96L487.32 133.18L483.12 133.18Z" fill="#0b2352"/>
<path d="M483.23 137.16L485.33 133.38L481.13 133.38Z" fill="#0b2352"/>
<path d="M481.24 137.37L483.34 133.59L479.14 133.59Z" fill="#0b2352"/>
<path d="M479.26 137.62L481.36 133.84L477.16 133.84Z" fill="#0b2352"/>
<path d="M477.28 137.93L479.38 134.15L475.18 134.15Z" fill="#0b2352"/>
<path d="M475.32 138.31L477.42 134.53L473.22 134.53Z" fill="#0b2352"/>
<path d="M473.37 138.77L475.47 134.99L471.27 134.99Z" fill="#0b2352"/>
<path d="M471.45 139.33L473.55 135.55L469.35 135.55Z" fill="#0b2352"/>
<path d="M469.56 139.96L471.66 136.18L467.46 136.18Z" fill="#0b2352"/>
<path d="M467.68 140.66L469.78 136.88L465.58 136.88Z" fill="#0b2352"/>
<path d="M465.82 141.40L467.92 137.62L463.72 137.62Z" fill="#0b2352"/>
<path d="M463.98 142.17L466.08 138.39L461.88 138.39Z" fill="#0b2352"/>
<path d="M462.17 143.03L464.27 139.25L460.07 139.25Z" fill="#0b2352"/>
<path d="M460.41 143.98L462.51 140.20L458.31 140.20Z" fill="#0b2352"/>
<path d="M458.71 145.03L460.81 141.25L456.61 141.25Z" fill="#0b2352"/>
<path d="M457.06 146.16L459.16 142.38L454.96 142.38Z" fill="#0b2352"/>
<path d="M455.45 147.35L457.55 143.57L453.35 143.57Z" fill="#0b2352"/>
<path d="M453.90 148.61L456.00 144.83L451.80 144.83Z" fill="#0b2352"/>
<path d="M452.39 149.92L454.49 146.14L450.29 146.14Z" fill="#0b2352"/>
<path d="M450.96 151.31L453.06 147.53L448.86 147.53Z" fill="#0b2352"/>
<path d="M449.59 152.77L451.69 148.99L447.49 148.99Z" fill="#0b2352"/>
<path d="M448.28 154.28L450.38 150.50L446.18 150.50Z" fill="#0b2352"/>
<path d="M447.04 155.86L449.14 152.08L444.94 152.08Z" fill="#0b2352"/>
<path d="M445.88 157.48L447.98 153.70L443.78 153.70Z" fill="#0b2352"/>
<path d="M444.79 159.16L446.89 155.38L442.69 155.38Z" fill="#0b2352"/>
<path d="M443.72 160.85L445.82 157.07L441.62 157.07Z" fill="#0b2352"/>
<path d="M442.73 162.59L444.83 158.81L440.63 158.81Z" fill="#0b2352"/>
<path d="M441.90 164.41L444.00 160.63L439.80 160.63Z" fill="#0b2352"/>
<path d="M441.26 166.30L443.36 162.52L439.16 162.52Z" fill="#0b2352"/>
<path d="M440.78 168.24L442.88 164.46L438.68 164.46Z" fill="#0b2352"/>
<path d="M440.44 170.21L442.54 166.43L438.34 166.43Z" fill="#0b2352"/>
<path d="M439.96 173.97L441.86 170.55L438.06 170.55Z" fill="#0b2352"/>
<path d="M439.62 177.95L441.52 174.53L437.72 174.53Z" fill="#0b2352"/>
<path d="M439.31 181.94L441.21 178.52L437.41 178.52Z" fill="#0b2352"/>
<path d="M439.06 185.93L440.96 182.51L437.16 182.51Z" fill="#0b2352"/>
<path d="M438.92 189.93L440.82 186.51L437.02 186.51Z" fill="#0b2352"/>
<path d="M438.80 193.93L440.70 190.51L436.90 190.51Z" fill="#0b2352"/>
<path d="M438.68 197.93L440.58 194.51L436.78 194.51Z" fill="#0b2352"/>
<path d="M437.90 124.77L440.00 120.99L435.80 120.99Z" fill="#0b2352"/>
<rect x="436.70" y="123.50" width="2.4" height="2.4" fill="#2ecc2e"/>
</g>
<rect x="469.2" y="28.2" width="73.4" height="29.8" fill="#fff" stroke="#a6a6a6" stroke-width="1"/>
<path d="M471 36.2H489" stroke="#9ee69e" stroke-width="0.9"/>
<circle cx="479.60" cy="36.20" r="1.5" fill="#2ecc2e"/>
<path d="M471 50H489" stroke="#8aa4c4" stroke-width="0.9"/>
<path d="M479.60 51.73L481.20 48.85L478.00 48.85Z" fill="#0b2352"/>
<text x="489.6" y="40.1" font-size="10.7" fill="#222222">YBCO / Ni</text>
<text x="489.6" y="53.9" font-size="10.7" fill="#222222">YBCO</text>
</svg></body></html>
